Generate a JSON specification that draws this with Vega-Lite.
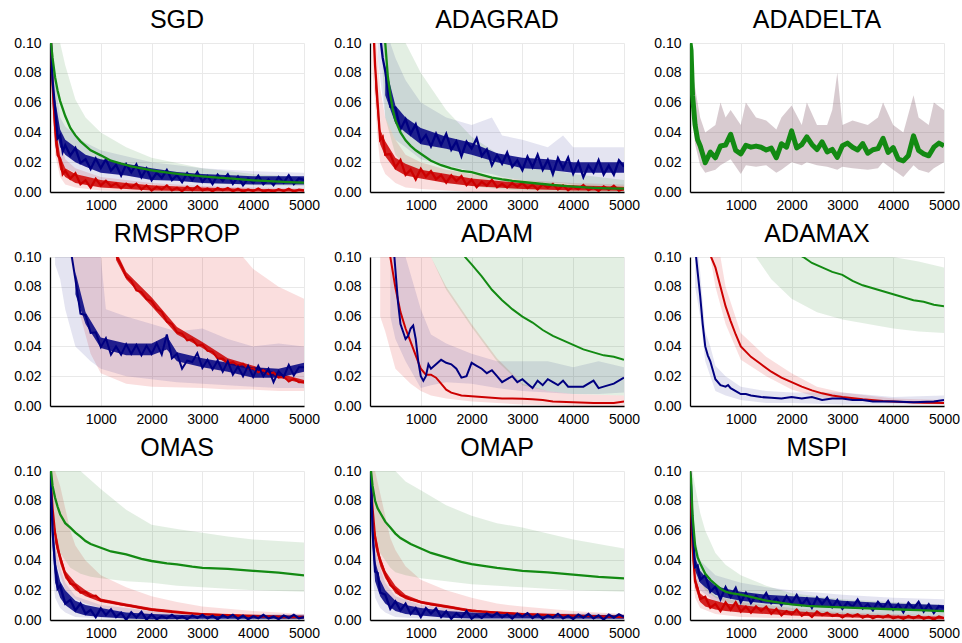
{
"$schema": "https://vega.github.io/schema/vega-lite/v6.json",
"background": "white",
"padding": {"left": 13, "top": 8, "right": 5, "bottom": 5},
"config": {
 "view": {"stroke": null},
 "font": "Liberation Sans",
 "title": {"fontSize": 25, "fontWeight": "normal", "anchor": "middle", "offset": 3, "color": "black", "font": "Liberation Sans"},
 "axis": {"labelFont": "Liberation Sans", "labelFontSize": 14, "labelColor": "black", "domainColor": "black", "domainWidth": 1.3, "ticks": false, "labelFlush": false, "labelOverlap": false, "gridColor": "#e9e9e9", "gridWidth": 1}
},
"columns": 3,
"spacing": {"row": 65, "column": 66},
"bounds": "flush",
"datasets": {
"bands": [
{"p":"SGD","s":"r","x":20,"l":0.09,"h":0.1},{"p":"SGD","s":"r","x":50,"l":0.05,"h":0.1},{"p":"SGD","s":"r","x":100,"l":0.025,"h":0.065},{"p":"SGD","s":"r","x":200,"l":0.01,"h":0.035},{"p":"SGD","s":"r","x":300,"l":0.005,"h":0.022},{"p":"SGD","s":"r","x":500,"l":0.003,"h":0.016},{"p":"SGD","s":"r","x":1000,"l":0.001,"h":0.01},{"p":"SGD","s":"r","x":1500,"l":0.0005,"h":0.008},{"p":"SGD","s":"r","x":2000,"l":0,"h":0.006},{"p":"SGD","s":"r","x":3000,"l":0,"h":0.004},{"p":"SGD","s":"r","x":4000,"l":0,"h":0.003},{"p":"SGD","s":"r","x":5000,"l":0,"h":0.0025},
{"p":"SGD","s":"b","x":20,"l":0.09,"h":0.11},{"p":"SGD","s":"b","x":50,"l":0.055,"h":0.1},{"p":"SGD","s":"b","x":100,"l":0.03,"h":0.075},{"p":"SGD","s":"b","x":200,"l":0.02,"h":0.05},{"p":"SGD","s":"b","x":300,"l":0.016,"h":0.044},{"p":"SGD","s":"b","x":500,"l":0.013,"h":0.038},{"p":"SGD","s":"b","x":700,"l":0.01,"h":0.033},{"p":"SGD","s":"b","x":1000,"l":0.008,"h":0.028},{"p":"SGD","s":"b","x":1500,"l":0.006,"h":0.024},{"p":"SGD","s":"b","x":2000,"l":0.005,"h":0.02},{"p":"SGD","s":"b","x":3000,"l":0.003,"h":0.016},{"p":"SGD","s":"b","x":4000,"l":0.002,"h":0.014},{"p":"SGD","s":"b","x":5000,"l":0.002,"h":0.013},
{"p":"SGD","s":"g","x":20,"l":0.095,"h":0.11},{"p":"SGD","s":"g","x":100,"l":0.05,"h":0.11},{"p":"SGD","s":"g","x":200,"l":0.04,"h":0.1},{"p":"SGD","s":"g","x":300,"l":0.032,"h":0.085},{"p":"SGD","s":"g","x":500,"l":0.024,"h":0.062},{"p":"SGD","s":"g","x":700,"l":0.02,"h":0.05},{"p":"SGD","s":"g","x":1000,"l":0.016,"h":0.04},{"p":"SGD","s":"g","x":1500,"l":0.011,"h":0.03},{"p":"SGD","s":"g","x":2000,"l":0.009,"h":0.023},{"p":"SGD","s":"g","x":3000,"l":0.006,"h":0.016},{"p":"SGD","s":"g","x":4000,"l":0.0045,"h":0.012},{"p":"SGD","s":"g","x":5000,"l":0.004,"h":0.01},
{"p":"ADAGRAD","s":"r","x":50,"l":0.08,"h":0.13},{"p":"ADAGRAD","s":"r","x":100,"l":0.06,"h":0.11},{"p":"ADAGRAD","s":"r","x":150,"l":0.035,"h":0.09},{"p":"ADAGRAD","s":"r","x":200,"l":0.02,"h":0.07},{"p":"ADAGRAD","s":"r","x":300,"l":0.012,"h":0.05},{"p":"ADAGRAD","s":"r","x":500,"l":0.006,"h":0.035},{"p":"ADAGRAD","s":"r","x":700,"l":0.003,"h":0.025},{"p":"ADAGRAD","s":"r","x":1000,"l":0.002,"h":0.02},{"p":"ADAGRAD","s":"r","x":1500,"l":0.001,"h":0.015},{"p":"ADAGRAD","s":"r","x":2000,"l":0,"h":0.012},{"p":"ADAGRAD","s":"r","x":3000,"l":0,"h":0.008},{"p":"ADAGRAD","s":"r","x":4000,"l":0,"h":0.006},{"p":"ADAGRAD","s":"r","x":5000,"l":0,"h":0.005},
{"p":"ADAGRAD","s":"b","x":150,"l":0.09,"h":0.13},{"p":"ADAGRAD","s":"b","x":300,"l":0.05,"h":0.11},{"p":"ADAGRAD","s":"b","x":500,"l":0.035,"h":0.09},{"p":"ADAGRAD","s":"b","x":700,"l":0.03,"h":0.075},{"p":"ADAGRAD","s":"b","x":1000,"l":0.022,"h":0.06},{"p":"ADAGRAD","s":"b","x":1500,"l":0.018,"h":0.05},{"p":"ADAGRAD","s":"b","x":2000,"l":0.014,"h":0.045},{"p":"ADAGRAD","s":"b","x":2400,"l":0.012,"h":0.05},{"p":"ADAGRAD","s":"b","x":2600,"l":0.01,"h":0.038},{"p":"ADAGRAD","s":"b","x":3000,"l":0.008,"h":0.035},{"p":"ADAGRAD","s":"b","x":3500,"l":0.006,"h":0.03},{"p":"ADAGRAD","s":"b","x":3800,"l":0.006,"h":0.038},{"p":"ADAGRAD","s":"b","x":4000,"l":0.005,"h":0.03},{"p":"ADAGRAD","s":"b","x":4500,"l":0.004,"h":0.03},{"p":"ADAGRAD","s":"b","x":5000,"l":0.004,"h":0.03},
{"p":"ADAGRAD","s":"g","x":250,"l":0.08,"h":0.12},{"p":"ADAGRAD","s":"g","x":300,"l":0.05,"h":0.12},{"p":"ADAGRAD","s":"g","x":500,"l":0.025,"h":0.11},{"p":"ADAGRAD","s":"g","x":700,"l":0.017,"h":0.1},{"p":"ADAGRAD","s":"g","x":1000,"l":0.01,"h":0.08},{"p":"ADAGRAD","s":"g","x":1500,"l":0.006,"h":0.055},{"p":"ADAGRAD","s":"g","x":2000,"l":0.004,"h":0.037},{"p":"ADAGRAD","s":"g","x":2500,"l":0.002,"h":0.026},{"p":"ADAGRAD","s":"g","x":3000,"l":0.001,"h":0.019},{"p":"ADAGRAD","s":"g","x":4000,"l":0,"h":0.012},{"p":"ADAGRAD","s":"g","x":5000,"l":0,"h":0.008},
{"p":"ADADELTA","s":"m","x":0,"l":0.095,"h":0.1},{"p":"ADADELTA","s":"m","x":50,"l":0.05,"h":0.08},{"p":"ADADELTA","s":"m","x":100,"l":0.032,"h":0.07},{"p":"ADADELTA","s":"m","x":200,"l":0.018,"h":0.05},{"p":"ADADELTA","s":"m","x":300,"l":0.013,"h":0.04},{"p":"ADADELTA","s":"m","x":500,"l":0.015,"h":0.045},{"p":"ADADELTA","s":"m","x":600,"l":0.018,"h":0.06},{"p":"ADADELTA","s":"m","x":700,"l":0.02,"h":0.05},{"p":"ADADELTA","s":"m","x":800,"l":0.022,"h":0.055},{"p":"ADADELTA","s":"m","x":1000,"l":0.012,"h":0.045},{"p":"ADADELTA","s":"m","x":1100,"l":0.018,"h":0.06},{"p":"ADADELTA","s":"m","x":1300,"l":0.017,"h":0.05},{"p":"ADADELTA","s":"m","x":1500,"l":0.018,"h":0.048},{"p":"ADADELTA","s":"m","x":1700,"l":0.013,"h":0.042},{"p":"ADADELTA","s":"m","x":1800,"l":0.015,"h":0.05},{"p":"ADADELTA","s":"m","x":2000,"l":0.02,"h":0.058},{"p":"ADADELTA","s":"m","x":2200,"l":0.018,"h":0.045},{"p":"ADADELTA","s":"m","x":2300,"l":0.02,"h":0.06},{"p":"ADADELTA","s":"m","x":2500,"l":0.018,"h":0.045},{"p":"ADADELTA","s":"m","x":2700,"l":0.017,"h":0.045},{"p":"ADADELTA","s":"m","x":2800,"l":0.016,"h":0.055},{"p":"ADADELTA","s":"m","x":2900,"l":0.015,"h":0.08},{"p":"ADADELTA","s":"m","x":3000,"l":0.017,"h":0.045},{"p":"ADADELTA","s":"m","x":3200,"l":0.016,"h":0.048},{"p":"ADADELTA","s":"m","x":3500,"l":0.015,"h":0.045},{"p":"ADADELTA","s":"m","x":3700,"l":0.016,"h":0.05},{"p":"ADADELTA","s":"m","x":3800,"l":0.02,"h":0.06},{"p":"ADADELTA","s":"m","x":4000,"l":0.015,"h":0.045},{"p":"ADADELTA","s":"m","x":4200,"l":0.01,"h":0.04},{"p":"ADADELTA","s":"m","x":4400,"l":0.018,"h":0.065},{"p":"ADADELTA","s":"m","x":4500,"l":0.015,"h":0.05},{"p":"ADADELTA","s":"m","x":4700,"l":0.013,"h":0.045},{"p":"ADADELTA","s":"m","x":4800,"l":0.016,"h":0.06},{"p":"ADADELTA","s":"m","x":5000,"l":0.02,"h":0.055},
{"p":"RMSPROP","s":"r","x":400,"l":0.1,"h":0.15},{"p":"RMSPROP","s":"r","x":600,"l":0.06,"h":0.15},{"p":"RMSPROP","s":"r","x":800,"l":0.035,"h":0.15},{"p":"RMSPROP","s":"r","x":1000,"l":0.022,"h":0.15},{"p":"RMSPROP","s":"r","x":1500,"l":0.015,"h":0.15},{"p":"RMSPROP","s":"r","x":2000,"l":0.013,"h":0.15},{"p":"RMSPROP","s":"r","x":3000,"l":0.012,"h":0.14},{"p":"RMSPROP","s":"r","x":3500,"l":0.011,"h":0.11},{"p":"RMSPROP","s":"r","x":3800,"l":0.011,"h":0.1},{"p":"RMSPROP","s":"r","x":4000,"l":0.011,"h":0.092},{"p":"RMSPROP","s":"r","x":4500,"l":0.01,"h":0.08},{"p":"RMSPROP","s":"r","x":5000,"l":0.01,"h":0.072},
{"p":"RMSPROP","s":"b","x":100,"l":0.095,"h":0.15},{"p":"RMSPROP","s":"b","x":200,"l":0.085,"h":0.15},{"p":"RMSPROP","s":"b","x":300,"l":0.065,"h":0.15},{"p":"RMSPROP","s":"b","x":500,"l":0.04,"h":0.15},{"p":"RMSPROP","s":"b","x":800,"l":0.03,"h":0.12},{"p":"RMSPROP","s":"b","x":1000,"l":0.025,"h":0.1},{"p":"RMSPROP","s":"b","x":1100,"l":0.024,"h":0.065},{"p":"RMSPROP","s":"b","x":1500,"l":0.02,"h":0.06},{"p":"RMSPROP","s":"b","x":2000,"l":0.018,"h":0.055},{"p":"RMSPROP","s":"b","x":2500,"l":0.016,"h":0.05},{"p":"RMSPROP","s":"b","x":3000,"l":0.015,"h":0.052},{"p":"RMSPROP","s":"b","x":3500,"l":0.014,"h":0.045},{"p":"RMSPROP","s":"b","x":4000,"l":0.013,"h":0.04},{"p":"RMSPROP","s":"b","x":4500,"l":0.012,"h":0.042},{"p":"RMSPROP","s":"b","x":5000,"l":0.012,"h":0.04},
{"p":"ADAM","s":"r","x":200,"l":0.06,"h":0.15},{"p":"ADAM","s":"r","x":300,"l":0.05,"h":0.15},{"p":"ADAM","s":"r","x":500,"l":0.025,"h":0.15},{"p":"ADAM","s":"r","x":800,"l":0.015,"h":0.13},{"p":"ADAM","s":"r","x":1000,"l":0.01,"h":0.1},{"p":"ADAM","s":"r","x":1200,"l":0.007,"h":0.1},{"p":"ADAM","s":"r","x":1500,"l":0.005,"h":0.08},{"p":"ADAM","s":"r","x":2000,"l":0.003,"h":0.055},{"p":"ADAM","s":"r","x":2500,"l":0.002,"h":0.032},{"p":"ADAM","s":"r","x":3000,"l":0.001,"h":0.015},{"p":"ADAM","s":"r","x":3500,"l":0.0005,"h":0.01},{"p":"ADAM","s":"r","x":4000,"l":0,"h":0.008},{"p":"ADAM","s":"r","x":5000,"l":0,"h":0.007},
{"p":"ADAM","s":"b","x":400,"l":0.06,"h":0.15},{"p":"ADAM","s":"b","x":500,"l":0.045,"h":0.12},{"p":"ADAM","s":"b","x":700,"l":0.03,"h":0.1},{"p":"ADAM","s":"b","x":1000,"l":0.012,"h":0.065},{"p":"ADAM","s":"b","x":1200,"l":0.014,"h":0.048},{"p":"ADAM","s":"b","x":1500,"l":0.016,"h":0.042},{"p":"ADAM","s":"b","x":2000,"l":0.015,"h":0.035},{"p":"ADAM","s":"b","x":2500,"l":0.012,"h":0.03},{"p":"ADAM","s":"b","x":3000,"l":0.01,"h":0.03},{"p":"ADAM","s":"b","x":3500,"l":0.009,"h":0.03},{"p":"ADAM","s":"b","x":4000,"l":0.008,"h":0.026},{"p":"ADAM","s":"b","x":4500,"l":0.008,"h":0.03},{"p":"ADAM","s":"b","x":5000,"l":0.009,"h":0.026},
{"p":"ADAM","s":"g","x":1000,"l":0.1,"h":0.16},{"p":"ADAM","s":"g","x":1200,"l":0.1,"h":0.16},{"p":"ADAM","s":"g","x":1500,"l":0.078,"h":0.16},{"p":"ADAM","s":"g","x":2000,"l":0.053,"h":0.16},{"p":"ADAM","s":"g","x":2500,"l":0.03,"h":0.15},{"p":"ADAM","s":"g","x":3000,"l":0.014,"h":0.15},{"p":"ADAM","s":"g","x":3500,"l":0.01,"h":0.14},{"p":"ADAM","s":"g","x":4000,"l":0.008,"h":0.13},{"p":"ADAM","s":"g","x":5000,"l":0.007,"h":0.12},
{"p":"ADAMAX","s":"r","x":300,"l":0.12,"h":0.15},{"p":"ADAMAX","s":"r","x":500,"l":0.08,"h":0.12},{"p":"ADAMAX","s":"r","x":700,"l":0.055,"h":0.08},{"p":"ADAMAX","s":"r","x":1000,"l":0.031,"h":0.049},{"p":"ADAMAX","s":"r","x":1500,"l":0.02,"h":0.033},{"p":"ADAMAX","s":"r","x":2000,"l":0.011,"h":0.022},{"p":"ADAMAX","s":"r","x":2500,"l":0.006,"h":0.013},{"p":"ADAMAX","s":"r","x":3000,"l":0.004,"h":0.009},{"p":"ADAMAX","s":"r","x":4000,"l":0.002,"h":0.005},{"p":"ADAMAX","s":"r","x":5000,"l":0.001,"h":0.004},
{"p":"ADAMAX","s":"b","x":100,"l":0.08,"h":0.12},{"p":"ADAMAX","s":"b","x":200,"l":0.06,"h":0.09},{"p":"ADAMAX","s":"b","x":300,"l":0.03,"h":0.05},{"p":"ADAMAX","s":"b","x":400,"l":0.02,"h":0.04},{"p":"ADAMAX","s":"b","x":500,"l":0.01,"h":0.027},{"p":"ADAMAX","s":"b","x":700,"l":0.007,"h":0.02},{"p":"ADAMAX","s":"b","x":1000,"l":0.004,"h":0.013},{"p":"ADAMAX","s":"b","x":1500,"l":0.002,"h":0.01},{"p":"ADAMAX","s":"b","x":2000,"l":0.002,"h":0.009},{"p":"ADAMAX","s":"b","x":3000,"l":0.001,"h":0.009},{"p":"ADAMAX","s":"b","x":4000,"l":0.001,"h":0.006},{"p":"ADAMAX","s":"b","x":5000,"l":0.001,"h":0.007},
{"p":"ADAMAX","s":"g","x":1300,"l":0.1,"h":0.15},{"p":"ADAMAX","s":"g","x":1600,"l":0.085,"h":0.15},{"p":"ADAMAX","s":"g","x":2000,"l":0.072,"h":0.15},{"p":"ADAMAX","s":"g","x":2500,"l":0.063,"h":0.14},{"p":"ADAMAX","s":"g","x":3000,"l":0.058,"h":0.13},{"p":"ADAMAX","s":"g","x":3500,"l":0.055,"h":0.11},{"p":"ADAMAX","s":"g","x":4000,"l":0.052,"h":0.1},{"p":"ADAMAX","s":"g","x":4500,"l":0.05,"h":0.097},{"p":"ADAMAX","s":"g","x":5000,"l":0.049,"h":0.093},
{"p":"OMAS","s":"r","x":0,"l":0.09,"h":0.1},{"p":"OMAS","s":"r","x":50,"l":0.05,"h":0.1},{"p":"OMAS","s":"r","x":100,"l":0.04,"h":0.1},{"p":"OMAS","s":"r","x":200,"l":0.03,"h":0.09},{"p":"OMAS","s":"r","x":300,"l":0.02,"h":0.075},{"p":"OMAS","s":"r","x":400,"l":0.017,"h":0.06},{"p":"OMAS","s":"r","x":500,"l":0.014,"h":0.05},{"p":"OMAS","s":"r","x":700,"l":0.011,"h":0.04},{"p":"OMAS","s":"r","x":1000,"l":0.008,"h":0.03},{"p":"OMAS","s":"r","x":1500,"l":0.005,"h":0.022},{"p":"OMAS","s":"r","x":2000,"l":0.003,"h":0.016},{"p":"OMAS","s":"r","x":2500,"l":0.002,"h":0.012},{"p":"OMAS","s":"r","x":3000,"l":0.0015,"h":0.009},{"p":"OMAS","s":"r","x":4000,"l":0.001,"h":0.006},{"p":"OMAS","s":"r","x":5000,"l":0.001,"h":0.004},
{"p":"OMAS","s":"b","x":0,"l":0.08,"h":0.1},{"p":"OMAS","s":"b","x":50,"l":0.03,"h":0.08},{"p":"OMAS","s":"b","x":100,"l":0.015,"h":0.05},{"p":"OMAS","s":"b","x":200,"l":0.008,"h":0.035},{"p":"OMAS","s":"b","x":300,"l":0.005,"h":0.025},{"p":"OMAS","s":"b","x":500,"l":0.002,"h":0.016},{"p":"OMAS","s":"b","x":1000,"l":0.001,"h":0.01},{"p":"OMAS","s":"b","x":2000,"l":0,"h":0.006},{"p":"OMAS","s":"b","x":3000,"l":0,"h":0.004},{"p":"OMAS","s":"b","x":5000,"l":0,"h":0.004},
{"p":"OMAS","s":"g","x":0,"l":0.1,"h":0.11},{"p":"OMAS","s":"g","x":50,"l":0.07,"h":0.11},{"p":"OMAS","s":"g","x":100,"l":0.06,"h":0.11},{"p":"OMAS","s":"g","x":200,"l":0.045,"h":0.11},{"p":"OMAS","s":"g","x":400,"l":0.035,"h":0.11},{"p":"OMAS","s":"g","x":600,"l":0.031,"h":0.1},{"p":"OMAS","s":"g","x":800,"l":0.029,"h":0.094},{"p":"OMAS","s":"g","x":1000,"l":0.028,"h":0.088},{"p":"OMAS","s":"g","x":1500,"l":0.026,"h":0.074},{"p":"OMAS","s":"g","x":2000,"l":0.025,"h":0.064},{"p":"OMAS","s":"g","x":2500,"l":0.023,"h":0.061},{"p":"OMAS","s":"g","x":3000,"l":0.022,"h":0.0586},{"p":"OMAS","s":"g","x":3500,"l":0.021,"h":0.056},{"p":"OMAS","s":"g","x":4000,"l":0.02,"h":0.054},{"p":"OMAS","s":"g","x":4500,"l":0.0195,"h":0.053},{"p":"OMAS","s":"g","x":5000,"l":0.019,"h":0.052},
{"p":"OMAP","s":"r","x":0,"l":0.09,"h":0.1},{"p":"OMAP","s":"r","x":50,"l":0.05,"h":0.1},{"p":"OMAP","s":"r","x":100,"l":0.035,"h":0.1},{"p":"OMAP","s":"r","x":200,"l":0.025,"h":0.085},{"p":"OMAP","s":"r","x":300,"l":0.018,"h":0.07},{"p":"OMAP","s":"r","x":400,"l":0.015,"h":0.055},{"p":"OMAP","s":"r","x":500,"l":0.012,"h":0.047},{"p":"OMAP","s":"r","x":700,"l":0.009,"h":0.036},{"p":"OMAP","s":"r","x":1000,"l":0.007,"h":0.027},{"p":"OMAP","s":"r","x":1500,"l":0.004,"h":0.02},{"p":"OMAP","s":"r","x":2000,"l":0.003,"h":0.015},{"p":"OMAP","s":"r","x":2500,"l":0.002,"h":0.011},{"p":"OMAP","s":"r","x":3000,"l":0.0015,"h":0.009},{"p":"OMAP","s":"r","x":4000,"l":0.001,"h":0.006},{"p":"OMAP","s":"r","x":5000,"l":0.001,"h":0.004},
{"p":"OMAP","s":"b","x":0,"l":0.08,"h":0.1},{"p":"OMAP","s":"b","x":50,"l":0.03,"h":0.08},{"p":"OMAP","s":"b","x":100,"l":0.015,"h":0.05},{"p":"OMAP","s":"b","x":200,"l":0.008,"h":0.035},{"p":"OMAP","s":"b","x":300,"l":0.005,"h":0.025},{"p":"OMAP","s":"b","x":500,"l":0.002,"h":0.016},{"p":"OMAP","s":"b","x":1000,"l":0.001,"h":0.01},{"p":"OMAP","s":"b","x":2000,"l":0,"h":0.006},{"p":"OMAP","s":"b","x":3000,"l":0,"h":0.005},{"p":"OMAP","s":"b","x":5000,"l":0,"h":0.004},
{"p":"OMAP","s":"g","x":0,"l":0.1,"h":0.11},{"p":"OMAP","s":"g","x":100,"l":0.06,"h":0.11},{"p":"OMAP","s":"g","x":200,"l":0.045,"h":0.11},{"p":"OMAP","s":"g","x":400,"l":0.035,"h":0.105},{"p":"OMAP","s":"g","x":500,"l":0.032,"h":0.1},{"p":"OMAP","s":"g","x":700,"l":0.03,"h":0.093},{"p":"OMAP","s":"g","x":1000,"l":0.028,"h":0.087},{"p":"OMAP","s":"g","x":1500,"l":0.026,"h":0.077},{"p":"OMAP","s":"g","x":2000,"l":0.024,"h":0.07},{"p":"OMAP","s":"g","x":2500,"l":0.023,"h":0.065},{"p":"OMAP","s":"g","x":3000,"l":0.022,"h":0.062},{"p":"OMAP","s":"g","x":3500,"l":0.021,"h":0.058},{"p":"OMAP","s":"g","x":4000,"l":0.02,"h":0.054},{"p":"OMAP","s":"g","x":4500,"l":0.0195,"h":0.051},{"p":"OMAP","s":"g","x":5000,"l":0.019,"h":0.048},
{"p":"MSPI","s":"r","x":0,"l":0.08,"h":0.1},{"p":"MSPI","s":"r","x":50,"l":0.03,"h":0.07},{"p":"MSPI","s":"r","x":100,"l":0.015,"h":0.045},{"p":"MSPI","s":"r","x":200,"l":0.008,"h":0.025},{"p":"MSPI","s":"r","x":500,"l":0.004,"h":0.016},{"p":"MSPI","s":"r","x":1000,"l":0.002,"h":0.012},{"p":"MSPI","s":"r","x":2000,"l":0.001,"h":0.008},{"p":"MSPI","s":"r","x":3000,"l":0,"h":0.005},{"p":"MSPI","s":"r","x":5000,"l":0,"h":0.003},
{"p":"MSPI","s":"b","x":0,"l":0.09,"h":0.11},{"p":"MSPI","s":"b","x":50,"l":0.045,"h":0.08},{"p":"MSPI","s":"b","x":100,"l":0.028,"h":0.055},{"p":"MSPI","s":"b","x":200,"l":0.02,"h":0.04},{"p":"MSPI","s":"b","x":500,"l":0.012,"h":0.03},{"p":"MSPI","s":"b","x":1000,"l":0.008,"h":0.025},{"p":"MSPI","s":"b","x":1500,"l":0.006,"h":0.022},{"p":"MSPI","s":"b","x":2000,"l":0.005,"h":0.02},{"p":"MSPI","s":"b","x":3000,"l":0.003,"h":0.017},{"p":"MSPI","s":"b","x":4000,"l":0.002,"h":0.015},{"p":"MSPI","s":"b","x":5000,"l":0.002,"h":0.014},
{"p":"MSPI","s":"g","x":0,"l":0.095,"h":0.11},{"p":"MSPI","s":"g","x":50,"l":0.05,"h":0.1},{"p":"MSPI","s":"g","x":100,"l":0.035,"h":0.09},{"p":"MSPI","s":"g","x":200,"l":0.026,"h":0.072},{"p":"MSPI","s":"g","x":300,"l":0.02,"h":0.06},{"p":"MSPI","s":"g","x":500,"l":0.015,"h":0.045},{"p":"MSPI","s":"g","x":700,"l":0.012,"h":0.037},{"p":"MSPI","s":"g","x":1000,"l":0.01,"h":0.03},{"p":"MSPI","s":"g","x":1500,"l":0.007,"h":0.023},{"p":"MSPI","s":"g","x":2000,"l":0.005,"h":0.018},{"p":"MSPI","s":"g","x":3000,"l":0.004,"h":0.014},{"p":"MSPI","s":"g","x":4000,"l":0.003,"h":0.012},{"p":"MSPI","s":"g","x":5000,"l":0.003,"h":0.01},
{"p":"SGD","s":"rn","x":50,"l":0.06,"h":0.08},{"p":"SGD","s":"rn","x":100,"l":0.032,"h":0.046},{"p":"SGD","s":"rn","x":200,"l":0.015,"h":0.024},{"p":"SGD","s":"rn","x":300,"l":0.01,"h":0.016},{"p":"SGD","s":"rn","x":500,"l":0.006,"h":0.012},{"p":"SGD","s":"rn","x":1000,"l":0.003,"h":0.008},{"p":"SGD","s":"rn","x":1500,"l":0.002,"h":0.006},{"p":"SGD","s":"rn","x":2000,"l":0.001,"h":0.0045},{"p":"SGD","s":"rn","x":3000,"l":0.0005,"h":0.003},{"p":"SGD","s":"rn","x":4000,"l":0.0003,"h":0.002},{"p":"SGD","s":"rn","x":5000,"l":0.0003,"h":0.0018},
{"p":"SGD","s":"bn","x":100,"l":0.045,"h":0.062},{"p":"SGD","s":"bn","x":200,"l":0.03,"h":0.042},{"p":"SGD","s":"bn","x":300,"l":0.025,"h":0.035},{"p":"SGD","s":"bn","x":500,"l":0.02,"h":0.03},{"p":"SGD","s":"bn","x":700,"l":0.017,"h":0.025},{"p":"SGD","s":"bn","x":1000,"l":0.013,"h":0.022},{"p":"SGD","s":"bn","x":1500,"l":0.011,"h":0.019},{"p":"SGD","s":"bn","x":2000,"l":0.008,"h":0.016},{"p":"SGD","s":"bn","x":2500,"l":0.0075,"h":0.0135},{"p":"SGD","s":"bn","x":3000,"l":0.006,"h":0.012},{"p":"SGD","s":"bn","x":4000,"l":0.005,"h":0.0105},{"p":"SGD","s":"bn","x":5000,"l":0.005,"h":0.0105},
{"p":"ADAGRAD","s":"rn","x":100,"l":0.07,"h":0.09},{"p":"ADAGRAD","s":"rn","x":150,"l":0.05,"h":0.062},{"p":"ADAGRAD","s":"rn","x":200,"l":0.032,"h":0.042},{"p":"ADAGRAD","s":"rn","x":300,"l":0.024,"h":0.034},{"p":"ADAGRAD","s":"rn","x":500,"l":0.015,"h":0.023},{"p":"ADAGRAD","s":"rn","x":700,"l":0.011,"h":0.019},{"p":"ADAGRAD","s":"rn","x":1000,"l":0.009,"h":0.015},{"p":"ADAGRAD","s":"rn","x":1500,"l":0.006,"h":0.012},{"p":"ADAGRAD","s":"rn","x":2000,"l":0.004,"h":0.009},{"p":"ADAGRAD","s":"rn","x":3000,"l":0.002,"h":0.006},{"p":"ADAGRAD","s":"rn","x":4000,"l":0.001,"h":0.0045},{"p":"ADAGRAD","s":"rn","x":5000,"l":0.0008,"h":0.0035},
{"p":"ADAGRAD","s":"bn","x":300,"l":0.065,"h":0.085},{"p":"ADAGRAD","s":"bn","x":500,"l":0.046,"h":0.058},{"p":"ADAGRAD","s":"bn","x":700,"l":0.04,"h":0.05},{"p":"ADAGRAD","s":"bn","x":1000,"l":0.032,"h":0.043},{"p":"ADAGRAD","s":"bn","x":1500,"l":0.029,"h":0.037},{"p":"ADAGRAD","s":"bn","x":2000,"l":0.025,"h":0.033},{"p":"ADAGRAD","s":"bn","x":2500,"l":0.02,"h":0.026},{"p":"ADAGRAD","s":"bn","x":3000,"l":0.016,"h":0.023},{"p":"ADAGRAD","s":"bn","x":3500,"l":0.015,"h":0.022},{"p":"ADAGRAD","s":"bn","x":4000,"l":0.013,"h":0.02},{"p":"ADAGRAD","s":"bn","x":4500,"l":0.013,"h":0.02},{"p":"ADAGRAD","s":"bn","x":5000,"l":0.013,"h":0.02},
{"p":"RMSPROP","s":"rn","x":1300,"l":0.098,"h":0.104},{"p":"RMSPROP","s":"rn","x":1500,"l":0.085,"h":0.09},{"p":"RMSPROP","s":"rn","x":2000,"l":0.067,"h":0.073},{"p":"RMSPROP","s":"rn","x":2500,"l":0.048,"h":0.053},{"p":"RMSPROP","s":"rn","x":3000,"l":0.039,"h":0.043},{"p":"RMSPROP","s":"rn","x":3500,"l":0.028,"h":0.032},{"p":"RMSPROP","s":"rn","x":4000,"l":0.024,"h":0.027},{"p":"RMSPROP","s":"rn","x":4500,"l":0.019,"h":0.022},{"p":"RMSPROP","s":"rn","x":5000,"l":0.015,"h":0.0175},
{"p":"RMSPROP","s":"bn","x":500,"l":0.075,"h":0.09},{"p":"RMSPROP","s":"bn","x":700,"l":0.055,"h":0.063},{"p":"RMSPROP","s":"bn","x":1000,"l":0.039,"h":0.046},{"p":"RMSPROP","s":"bn","x":1500,"l":0.034,"h":0.042},{"p":"RMSPROP","s":"bn","x":2000,"l":0.034,"h":0.042},{"p":"RMSPROP","s":"bn","x":2300,"l":0.038,"h":0.047},{"p":"RMSPROP","s":"bn","x":2500,"l":0.03,"h":0.036},{"p":"RMSPROP","s":"bn","x":3000,"l":0.026,"h":0.032},{"p":"RMSPROP","s":"bn","x":3500,"l":0.023,"h":0.029},{"p":"RMSPROP","s":"bn","x":4000,"l":0.019,"h":0.026},{"p":"RMSPROP","s":"bn","x":4500,"l":0.019,"h":0.025},{"p":"RMSPROP","s":"bn","x":5000,"l":0.023,"h":0.029},
{"p":"OMAS","s":"rn","x":100,"l":0.052,"h":0.062},{"p":"OMAS","s":"rn","x":200,"l":0.038,"h":0.045},{"p":"OMAS","s":"rn","x":300,"l":0.028,"h":0.033},{"p":"OMAS","s":"rn","x":500,"l":0.02,"h":0.025},{"p":"OMAS","s":"rn","x":700,"l":0.016,"h":0.02},{"p":"OMAS","s":"rn","x":1000,"l":0.012,"h":0.0145},{"p":"OMAS","s":"rn","x":1500,"l":0.009,"h":0.011},{"p":"OMAS","s":"rn","x":2000,"l":0.006,"h":0.008},{"p":"OMAS","s":"rn","x":3000,"l":0.0035,"h":0.0045},{"p":"OMAS","s":"rn","x":5000,"l":0.0015,"h":0.0025},
{"p":"OMAS","s":"bn","x":50,"l":0.05,"h":0.07},{"p":"OMAS","s":"bn","x":100,"l":0.025,"h":0.04},{"p":"OMAS","s":"bn","x":200,"l":0.015,"h":0.026},{"p":"OMAS","s":"bn","x":300,"l":0.01,"h":0.02},{"p":"OMAS","s":"bn","x":500,"l":0.005,"h":0.013},{"p":"OMAS","s":"bn","x":700,"l":0.003,"h":0.01},{"p":"OMAS","s":"bn","x":1000,"l":0.002,"h":0.008},{"p":"OMAS","s":"bn","x":1500,"l":0.001,"h":0.005},{"p":"OMAS","s":"bn","x":2000,"l":0.0005,"h":0.004},{"p":"OMAS","s":"bn","x":3000,"l":0.0008,"h":0.003},{"p":"OMAS","s":"bn","x":5000,"l":0.0008,"h":0.003},
{"p":"OMAP","s":"rn","x":100,"l":0.05,"h":0.06},{"p":"OMAP","s":"rn","x":200,"l":0.036,"h":0.043},{"p":"OMAP","s":"rn","x":300,"l":0.028,"h":0.033},{"p":"OMAP","s":"rn","x":500,"l":0.018,"h":0.023},{"p":"OMAP","s":"rn","x":700,"l":0.014,"h":0.017},{"p":"OMAP","s":"rn","x":1000,"l":0.011,"h":0.013},{"p":"OMAP","s":"rn","x":1500,"l":0.008,"h":0.01},{"p":"OMAP","s":"rn","x":2000,"l":0.0055,"h":0.007},{"p":"OMAP","s":"rn","x":3000,"l":0.0035,"h":0.0045},{"p":"OMAP","s":"rn","x":5000,"l":0.0015,"h":0.0025},
{"p":"OMAP","s":"bn","x":50,"l":0.05,"h":0.07},{"p":"OMAP","s":"bn","x":100,"l":0.026,"h":0.04},{"p":"OMAP","s":"bn","x":200,"l":0.016,"h":0.027},{"p":"OMAP","s":"bn","x":300,"l":0.011,"h":0.02},{"p":"OMAP","s":"bn","x":500,"l":0.006,"h":0.013},{"p":"OMAP","s":"bn","x":700,"l":0.004,"h":0.01},{"p":"OMAP","s":"bn","x":1000,"l":0.003,"h":0.008},{"p":"OMAP","s":"bn","x":1500,"l":0.0015,"h":0.006},{"p":"OMAP","s":"bn","x":2000,"l":0.001,"h":0.005},{"p":"OMAP","s":"bn","x":3000,"l":0.001,"h":0.004},{"p":"OMAP","s":"bn","x":5000,"l":0.0008,"h":0.0032},
{"p":"MSPI","s":"rn","x":50,"l":0.04,"h":0.055},{"p":"MSPI","s":"rn","x":100,"l":0.022,"h":0.03},{"p":"MSPI","s":"rn","x":200,"l":0.012,"h":0.018},{"p":"MSPI","s":"rn","x":300,"l":0.009,"h":0.015},{"p":"MSPI","s":"rn","x":500,"l":0.007,"h":0.013},{"p":"MSPI","s":"rn","x":700,"l":0.006,"h":0.011},{"p":"MSPI","s":"rn","x":1000,"l":0.005,"h":0.01},{"p":"MSPI","s":"rn","x":1500,"l":0.004,"h":0.008},{"p":"MSPI","s":"rn","x":2000,"l":0.003,"h":0.006},{"p":"MSPI","s":"rn","x":3000,"l":0.0018,"h":0.0038},{"p":"MSPI","s":"rn","x":4000,"l":0.001,"h":0.003},{"p":"MSPI","s":"rn","x":5000,"l":0.0005,"h":0.0022},
{"p":"MSPI","s":"bn","x":100,"l":0.033,"h":0.042},{"p":"MSPI","s":"bn","x":200,"l":0.025,"h":0.033},{"p":"MSPI","s":"bn","x":300,"l":0.022,"h":0.029},{"p":"MSPI","s":"bn","x":500,"l":0.017,"h":0.023},{"p":"MSPI","s":"bn","x":700,"l":0.015,"h":0.021},{"p":"MSPI","s":"bn","x":1000,"l":0.013,"h":0.019},{"p":"MSPI","s":"bn","x":1500,"l":0.011,"h":0.017},{"p":"MSPI","s":"bn","x":2000,"l":0.01,"h":0.016},{"p":"MSPI","s":"bn","x":2500,"l":0.009,"h":0.015},{"p":"MSPI","s":"bn","x":3000,"l":0.008,"h":0.013},{"p":"MSPI","s":"bn","x":4000,"l":0.007,"h":0.011},{"p":"MSPI","s":"bn","x":5000,"l":0.006,"h":0.01}
],
"lines": [
{"p":"SGD","s":"r","x":0,"y":0.1},{"p":"SGD","s":"r","x":20,"y":0.1},{"p":"SGD","s":"r","x":50,"y":0.072},{"p":"SGD","s":"r","x":100,"y":0.044},{"p":"SGD","s":"r","x":150,"y":0.0248},{"p":"SGD","s":"r","x":200,"y":0.0224},{"p":"SGD","s":"r","x":250,"y":0.012},{"p":"SGD","s":"r","x":300,"y":0.0142},{"p":"SGD","s":"r","x":400,"y":0.009},{"p":"SGD","s":"r","x":500,"y":0.0126},{"p":"SGD","s":"r","x":600,"y":0.0052},{"p":"SGD","s":"r","x":700,"y":0.0078},{"p":"SGD","s":"r","x":800,"y":0.0029},{"p":"SGD","s":"r","x":900,"y":0.0088},{"p":"SGD","s":"r","x":1000,"y":0.0044},{"p":"SGD","s":"r","x":1100,"y":0.0075},{"p":"SGD","s":"r","x":1200,"y":0.0038},{"p":"SGD","s":"r","x":1300,"y":0.0058},{"p":"SGD","s":"r","x":1400,"y":0.0025},{"p":"SGD","s":"r","x":1500,"y":0.0056},{"p":"SGD","s":"r","x":1600,"y":0.0032},{"p":"SGD","s":"r","x":1700,"y":0.0056},{"p":"SGD","s":"r","x":1800,"y":0.0018},{"p":"SGD","s":"r","x":1900,"y":0.0044},{"p":"SGD","s":"r","x":2000,"y":0.001},{"p":"SGD","s":"r","x":2100,"y":0.0035},{"p":"SGD","s":"r","x":2200,"y":0.0018},{"p":"SGD","s":"r","x":2300,"y":0.0044},{"p":"SGD","s":"r","x":2400,"y":0.0011},{"p":"SGD","s":"r","x":2500,"y":0.0028},{"p":"SGD","s":"r","x":2600,"y":0.0005},{"p":"SGD","s":"r","x":2700,"y":0.0036},{"p":"SGD","s":"r","x":2800,"y":0.0012},{"p":"SGD","s":"r","x":2900,"y":0.0039},{"p":"SGD","s":"r","x":3000,"y":0.0011},{"p":"SGD","s":"r","x":3100,"y":0.0023},{"p":"SGD","s":"r","x":3200,"y":0.0005},{"p":"SGD","s":"r","x":3300,"y":0.0026},{"p":"SGD","s":"r","x":3400,"y":0.0012},{"p":"SGD","s":"r","x":3500,"y":0.0027},{"p":"SGD","s":"r","x":3600,"y":0.0005},{"p":"SGD","s":"r","x":3700,"y":0.0021},{"p":"SGD","s":"r","x":3800,"y":0.0003},{"p":"SGD","s":"r","x":3900,"y":0.0017},{"p":"SGD","s":"r","x":4000,"y":0.0006},{"p":"SGD","s":"r","x":4100,"y":0.0023},{"p":"SGD","s":"r","x":4200,"y":0.0004},{"p":"SGD","s":"r","x":4300,"y":0.0013},{"p":"SGD","s":"r","x":4400,"y":0.0003},{"p":"SGD","s":"r","x":4500,"y":0.0019},{"p":"SGD","s":"r","x":4600,"y":0.0006},{"p":"SGD","s":"r","x":4700,"y":0.0022},{"p":"SGD","s":"r","x":4800,"y":0.0003},{"p":"SGD","s":"r","x":4900,"y":0.0016},{"p":"SGD","s":"r","x":5000,"y":0.001},
{"p":"SGD","s":"b","x":0,"y":0.1},{"p":"SGD","s":"b","x":20,"y":0.1},{"p":"SGD","s":"b","x":50,"y":0.075},{"p":"SGD","s":"b","x":100,"y":0.056},{"p":"SGD","s":"b","x":150,"y":0.036},{"p":"SGD","s":"b","x":200,"y":0.038},{"p":"SGD","s":"b","x":250,"y":0.027},{"p":"SGD","s":"b","x":300,"y":0.0315},{"p":"SGD","s":"b","x":400,"y":0.0245},{"p":"SGD","s":"b","x":500,"y":0.0295},{"p":"SGD","s":"b","x":600,"y":0.0195},{"p":"SGD","s":"b","x":700,"y":0.022},{"p":"SGD","s":"b","x":800,"y":0.0155},{"p":"SGD","s":"b","x":900,"y":0.0225},{"p":"SGD","s":"b","x":1000,"y":0.016},{"p":"SGD","s":"b","x":1100,"y":0.022},{"p":"SGD","s":"b","x":1200,"y":0.0143},{"p":"SGD","s":"b","x":1300,"y":0.0183},{"p":"SGD","s":"b","x":1400,"y":0.011},{"p":"SGD","s":"b","x":1500,"y":0.0186},{"p":"SGD","s":"b","x":1600,"y":0.0132},{"p":"SGD","s":"b","x":1700,"y":0.0185},{"p":"SGD","s":"b","x":1800,"y":0.0099},{"p":"SGD","s":"b","x":1900,"y":0.0157},{"p":"SGD","s":"b","x":2000,"y":0.008},{"p":"SGD","s":"b","x":2100,"y":0.0129},{"p":"SGD","s":"b","x":2200,"y":0.0094},{"p":"SGD","s":"b","x":2300,"y":0.0147},{"p":"SGD","s":"b","x":2400,"y":0.008},{"p":"SGD","s":"b","x":2500,"y":0.0113},{"p":"SGD","s":"b","x":2600,"y":0.0066},{"p":"SGD","s":"b","x":2700,"y":0.0127},{"p":"SGD","s":"b","x":2800,"y":0.008},{"p":"SGD","s":"b","x":2900,"y":0.0133},{"p":"SGD","s":"b","x":3000,"y":0.0069},{"p":"SGD","s":"b","x":3100,"y":0.0107},{"p":"SGD","s":"b","x":3200,"y":0.0053},{"p":"SGD","s":"b","x":3300,"y":0.0115},{"p":"SGD","s":"b","x":3400,"y":0.0075},{"p":"SGD","s":"b","x":3500,"y":0.0119},{"p":"SGD","s":"b","x":3600,"y":0.0055},{"p":"SGD","s":"b","x":3700,"y":0.0103},{"p":"SGD","s":"b","x":3800,"y":0.0046},{"p":"SGD","s":"b","x":3900,"y":0.009},{"p":"SGD","s":"b","x":4000,"y":0.0061},{"p":"SGD","s":"b","x":4100,"y":0.0109},{"p":"SGD","s":"b","x":4200,"y":0.0053},{"p":"SGD","s":"b","x":4300,"y":0.0084},{"p":"SGD","s":"b","x":4400,"y":0.0046},{"p":"SGD","s":"b","x":4500,"y":0.01},{"p":"SGD","s":"b","x":4600,"y":0.0062},{"p":"SGD","s":"b","x":4700,"y":0.0111},{"p":"SGD","s":"b","x":4800,"y":0.0054},{"p":"SGD","s":"b","x":4900,"y":0.0092},{"p":"SGD","s":"b","x":5000,"y":0.008},
{"p":"SGD","s":"g","x":0,"y":0.105},{"p":"SGD","s":"g","x":20,"y":0.1},{"p":"SGD","s":"g","x":50,"y":0.09},{"p":"SGD","s":"g","x":100,"y":0.077},{"p":"SGD","s":"g","x":150,"y":0.068},{"p":"SGD","s":"g","x":200,"y":0.061},{"p":"SGD","s":"g","x":300,"y":0.051},{"p":"SGD","s":"g","x":400,"y":0.043},{"p":"SGD","s":"g","x":500,"y":0.038},{"p":"SGD","s":"g","x":600,"y":0.034},{"p":"SGD","s":"g","x":700,"y":0.031},{"p":"SGD","s":"g","x":800,"y":0.028},{"p":"SGD","s":"g","x":1000,"y":0.0246},{"p":"SGD","s":"g","x":1200,"y":0.021},{"p":"SGD","s":"g","x":1400,"y":0.019},{"p":"SGD","s":"g","x":1600,"y":0.0172},{"p":"SGD","s":"g","x":1800,"y":0.0158},{"p":"SGD","s":"g","x":2000,"y":0.0145},{"p":"SGD","s":"g","x":2200,"y":0.0135},{"p":"SGD","s":"g","x":2400,"y":0.0126},{"p":"SGD","s":"g","x":2600,"y":0.0119},{"p":"SGD","s":"g","x":2800,"y":0.0112},{"p":"SGD","s":"g","x":3000,"y":0.0105},{"p":"SGD","s":"g","x":3300,"y":0.0097},{"p":"SGD","s":"g","x":3600,"y":0.009},{"p":"SGD","s":"g","x":4000,"y":0.0078},{"p":"SGD","s":"g","x":4400,"y":0.0071},{"p":"SGD","s":"g","x":4700,"y":0.0066},{"p":"SGD","s":"g","x":5000,"y":0.0063},
{"p":"ADAGRAD","s":"r","x":50,"y":0.13},{"p":"ADAGRAD","s":"r","x":80,"y":0.1},{"p":"ADAGRAD","s":"r","x":100,"y":0.085},{"p":"ADAGRAD","s":"r","x":150,"y":0.06},{"p":"ADAGRAD","s":"r","x":200,"y":0.035},{"p":"ADAGRAD","s":"r","x":250,"y":0.037},{"p":"ADAGRAD","s":"r","x":300,"y":0.025},{"p":"ADAGRAD","s":"r","x":400,"y":0.0255},{"p":"ADAGRAD","s":"r","x":500,"y":0.0165},{"p":"ADAGRAD","s":"r","x":600,"y":0.0215},{"p":"ADAGRAD","s":"r","x":700,"y":0.0115},{"p":"ADAGRAD","s":"r","x":800,"y":0.015},{"p":"ADAGRAD","s":"r","x":900,"y":0.0085},{"p":"ADAGRAD","s":"r","x":1000,"y":0.0155},{"p":"ADAGRAD","s":"r","x":1100,"y":0.0103},{"p":"ADAGRAD","s":"r","x":1200,"y":0.014},{"p":"ADAGRAD","s":"r","x":1300,"y":0.0086},{"p":"ADAGRAD","s":"r","x":1400,"y":0.0113},{"p":"ADAGRAD","s":"r","x":1500,"y":0.0063},{"p":"ADAGRAD","s":"r","x":1600,"y":0.0111},{"p":"ADAGRAD","s":"r","x":1700,"y":0.0073},{"p":"ADAGRAD","s":"r","x":1800,"y":0.0106},{"p":"ADAGRAD","s":"r","x":1900,"y":0.0047},{"p":"ADAGRAD","s":"r","x":2000,"y":0.0083},{"p":"ADAGRAD","s":"r","x":2100,"y":0.0033},{"p":"ADAGRAD","s":"r","x":2200,"y":0.0069},{"p":"ADAGRAD","s":"r","x":2300,"y":0.0043},{"p":"ADAGRAD","s":"r","x":2400,"y":0.0082},{"p":"ADAGRAD","s":"r","x":2500,"y":0.0032},{"p":"ADAGRAD","s":"r","x":2600,"y":0.0054},{"p":"ADAGRAD","s":"r","x":2700,"y":0.003},{"p":"ADAGRAD","s":"r","x":2800,"y":0.0059},{"p":"ADAGRAD","s":"r","x":2900,"y":0.0035},{"p":"ADAGRAD","s":"r","x":3000,"y":0.006},{"p":"ADAGRAD","s":"r","x":3100,"y":0.0027},{"p":"ADAGRAD","s":"r","x":3200,"y":0.0048},{"p":"ADAGRAD","s":"r","x":3300,"y":0.0017},{"p":"ADAGRAD","s":"r","x":3400,"y":0.0052},{"p":"ADAGRAD","s":"r","x":3500,"y":0.0029},{"p":"ADAGRAD","s":"r","x":3600,"y":0.0054},{"p":"ADAGRAD","s":"r","x":3700,"y":0.0017},{"p":"ADAGRAD","s":"r","x":3800,"y":0.0044},{"p":"ADAGRAD","s":"r","x":3900,"y":0.0011},{"p":"ADAGRAD","s":"r","x":4000,"y":0.0036},{"p":"ADAGRAD","s":"r","x":4100,"y":0.0019},{"p":"ADAGRAD","s":"r","x":4200,"y":0.0046},{"p":"ADAGRAD","s":"r","x":4300,"y":0.0013},{"p":"ADAGRAD","s":"r","x":4400,"y":0.003},{"p":"ADAGRAD","s":"r","x":4500,"y":0.0007},{"p":"ADAGRAD","s":"r","x":4600,"y":0.0038},{"p":"ADAGRAD","s":"r","x":4700,"y":0.0015},{"p":"ADAGRAD","s":"r","x":4800,"y":0.0042},{"p":"ADAGRAD","s":"r","x":4900,"y":0.0009},{"p":"ADAGRAD","s":"r","x":5000,"y":0.0022},
{"p":"ADAGRAD","s":"b","x":150,"y":0.12},{"p":"ADAGRAD","s":"b","x":200,"y":0.105},{"p":"ADAGRAD","s":"b","x":250,"y":0.09},{"p":"ADAGRAD","s":"b","x":300,"y":0.081},{"p":"ADAGRAD","s":"b","x":400,"y":0.0572},{"p":"ADAGRAD","s":"b","x":500,"y":0.0566},{"p":"ADAGRAD","s":"b","x":600,"y":0.042},{"p":"ADAGRAD","s":"b","x":700,"y":0.0488},{"p":"ADAGRAD","s":"b","x":800,"y":0.039},{"p":"ADAGRAD","s":"b","x":900,"y":0.0454},{"p":"ADAGRAD","s":"b","x":1000,"y":0.0338},{"p":"ADAGRAD","s":"b","x":1100,"y":0.0382},{"p":"ADAGRAD","s":"b","x":1200,"y":0.0306},{"p":"ADAGRAD","s":"b","x":1300,"y":0.0392},{"p":"ADAGRAD","s":"b","x":1400,"y":0.0316},{"p":"ADAGRAD","s":"b","x":1500,"y":0.039},{"p":"ADAGRAD","s":"b","x":1600,"y":0.0284},{"p":"ADAGRAD","s":"b","x":1700,"y":0.034},{"p":"ADAGRAD","s":"b","x":1800,"y":0.024},{"p":"ADAGRAD","s":"b","x":1900,"y":0.0338},{"p":"ADAGRAD","s":"b","x":2000,"y":0.0292},{"p":"ADAGRAD","s":"b","x":2100,"y":0.036},{"p":"ADAGRAD","s":"b","x":2200,"y":0.0242},{"p":"ADAGRAD","s":"b","x":2300,"y":0.0286},{"p":"ADAGRAD","s":"b","x":2400,"y":0.018},{"p":"ADAGRAD","s":"b","x":2500,"y":0.0248},{"p":"ADAGRAD","s":"b","x":2600,"y":0.019},{"p":"ADAGRAD","s":"b","x":2700,"y":0.0264},{"p":"ADAGRAD","s":"b","x":2800,"y":0.0168},{"p":"ADAGRAD","s":"b","x":2900,"y":0.0212},{"p":"ADAGRAD","s":"b","x":3000,"y":0.0146},{"p":"ADAGRAD","s":"b","x":3100,"y":0.0237},{"p":"ADAGRAD","s":"b","x":3200,"y":0.0166},{"p":"ADAGRAD","s":"b","x":3300,"y":0.025},{"p":"ADAGRAD","s":"b","x":3400,"y":0.0149},{"p":"ADAGRAD","s":"b","x":3500,"y":0.0215},{"p":"ADAGRAD","s":"b","x":3600,"y":0.012},{"p":"ADAGRAD","s":"b","x":3700,"y":0.0228},{"p":"ADAGRAD","s":"b","x":3800,"y":0.0157},{"p":"ADAGRAD","s":"b","x":3900,"y":0.023},{"p":"ADAGRAD","s":"b","x":4000,"y":0.0122},{"p":"ADAGRAD","s":"b","x":4100,"y":0.0201},{"p":"ADAGRAD","s":"b","x":4200,"y":0.01},{"p":"ADAGRAD","s":"b","x":4300,"y":0.0178},{"p":"ADAGRAD","s":"b","x":4400,"y":0.013},{"p":"ADAGRAD","s":"b","x":4500,"y":0.0214},{"p":"ADAGRAD","s":"b","x":4600,"y":0.0118},{"p":"ADAGRAD","s":"b","x":4700,"y":0.0177},{"p":"ADAGRAD","s":"b","x":4800,"y":0.0116},{"p":"ADAGRAD","s":"b","x":4900,"y":0.0212},{"p":"ADAGRAD","s":"b","x":5000,"y":0.017},
{"p":"ADAGRAD","s":"g","x":250,"y":0.12},{"p":"ADAGRAD","s":"g","x":300,"y":0.1},{"p":"ADAGRAD","s":"g","x":350,"y":0.078},{"p":"ADAGRAD","s":"g","x":400,"y":0.065},{"p":"ADAGRAD","s":"g","x":450,"y":0.055},{"p":"ADAGRAD","s":"g","x":500,"y":0.048},{"p":"ADAGRAD","s":"g","x":600,"y":0.04},{"p":"ADAGRAD","s":"g","x":700,"y":0.0347},{"p":"ADAGRAD","s":"g","x":800,"y":0.031},{"p":"ADAGRAD","s":"g","x":900,"y":0.028},{"p":"ADAGRAD","s":"g","x":1000,"y":0.0257},{"p":"ADAGRAD","s":"g","x":1200,"y":0.021},{"p":"ADAGRAD","s":"g","x":1400,"y":0.018},{"p":"ADAGRAD","s":"g","x":1600,"y":0.0158},{"p":"ADAGRAD","s":"g","x":1800,"y":0.0142},{"p":"ADAGRAD","s":"g","x":2000,"y":0.0134},{"p":"ADAGRAD","s":"g","x":2200,"y":0.0115},{"p":"ADAGRAD","s":"g","x":2400,"y":0.0097},{"p":"ADAGRAD","s":"g","x":2600,"y":0.0085},{"p":"ADAGRAD","s":"g","x":2800,"y":0.0075},{"p":"ADAGRAD","s":"g","x":3000,"y":0.0067},{"p":"ADAGRAD","s":"g","x":3300,"y":0.0057},{"p":"ADAGRAD","s":"g","x":3600,"y":0.0047},{"p":"ADAGRAD","s":"g","x":4000,"y":0.0036},{"p":"ADAGRAD","s":"g","x":4400,"y":0.0028},{"p":"ADAGRAD","s":"g","x":4700,"y":0.0024},{"p":"ADAGRAD","s":"g","x":5000,"y":0.0022},
{"p":"ADADELTA","s":"g","x":0,"y":0.1},{"p":"ADADELTA","s":"g","x":20,"y":0.095},{"p":"ADADELTA","s":"g","x":50,"y":0.065},{"p":"ADADELTA","s":"g","x":100,"y":0.045},{"p":"ADADELTA","s":"g","x":150,"y":0.035},{"p":"ADADELTA","s":"g","x":200,"y":0.031},{"p":"ADADELTA","s":"g","x":300,"y":0.0196},{"p":"ADADELTA","s":"g","x":400,"y":0.0268},{"p":"ADADELTA","s":"g","x":500,"y":0.023},{"p":"ADADELTA","s":"g","x":600,"y":0.0309},{"p":"ADADELTA","s":"g","x":700,"y":0.0315},{"p":"ADADELTA","s":"g","x":800,"y":0.0387},{"p":"ADADELTA","s":"g","x":900,"y":0.0279},{"p":"ADADELTA","s":"g","x":1000,"y":0.0256},{"p":"ADADELTA","s":"g","x":1100,"y":0.0313},{"p":"ADADELTA","s":"g","x":1200,"y":0.0301},{"p":"ADADELTA","s":"g","x":1300,"y":0.0308},{"p":"ADADELTA","s":"g","x":1400,"y":0.03},{"p":"ADADELTA","s":"g","x":1500,"y":0.0282},{"p":"ADADELTA","s":"g","x":1600,"y":0.0295},{"p":"ADADELTA","s":"g","x":1700,"y":0.023},{"p":"ADADELTA","s":"g","x":1800,"y":0.0324},{"p":"ADADELTA","s":"g","x":1900,"y":0.0301},{"p":"ADADELTA","s":"g","x":2000,"y":0.041},{"p":"ADADELTA","s":"g","x":2100,"y":0.0296},{"p":"ADADELTA","s":"g","x":2200,"y":0.0318},{"p":"ADADELTA","s":"g","x":2300,"y":0.037},{"p":"ADADELTA","s":"g","x":2400,"y":0.0319},{"p":"ADADELTA","s":"g","x":2500,"y":0.0285},{"p":"ADADELTA","s":"g","x":2600,"y":0.0337},{"p":"ADADELTA","s":"g","x":2700,"y":0.0269},{"p":"ADADELTA","s":"g","x":2800,"y":0.0286},{"p":"ADADELTA","s":"g","x":2900,"y":0.0233},{"p":"ADADELTA","s":"g","x":3000,"y":0.0311},{"p":"ADADELTA","s":"g","x":3100,"y":0.0328},{"p":"ADADELTA","s":"g","x":3200,"y":0.03},{"p":"ADADELTA","s":"g","x":3300,"y":0.0282},{"p":"ADADELTA","s":"g","x":3400,"y":0.0325},{"p":"ADADELTA","s":"g","x":3500,"y":0.026},{"p":"ADADELTA","s":"g","x":3600,"y":0.0284},{"p":"ADADELTA","s":"g","x":3700,"y":0.0291},{"p":"ADADELTA","s":"g","x":3800,"y":0.036},{"p":"ADADELTA","s":"g","x":3900,"y":0.0266},{"p":"ADADELTA","s":"g","x":4000,"y":0.0298},{"p":"ADADELTA","s":"g","x":4100,"y":0.022},{"p":"ADADELTA","s":"g","x":4200,"y":0.0209},{"p":"ADADELTA","s":"g","x":4300,"y":0.0245},{"p":"ADADELTA","s":"g","x":4400,"y":0.0377},{"p":"ADADELTA","s":"g","x":4500,"y":0.0279},{"p":"ADADELTA","s":"g","x":4600,"y":0.0256},{"p":"ADADELTA","s":"g","x":4700,"y":0.0243},{"p":"ADADELTA","s":"g","x":4800,"y":0.0301},{"p":"ADADELTA","s":"g","x":4900,"y":0.0328},{"p":"ADADELTA","s":"g","x":5000,"y":0.031},
{"p":"RMSPROP","s":"r","x":500,"y":0.2},{"p":"RMSPROP","s":"r","x":1000,"y":0.13},{"p":"RMSPROP","s":"r","x":1300,"y":0.101},{"p":"RMSPROP","s":"r","x":1400,"y":0.0945},{"p":"RMSPROP","s":"r","x":1500,"y":0.0868},{"p":"RMSPROP","s":"r","x":1600,"y":0.0839},{"p":"RMSPROP","s":"r","x":1700,"y":0.0775},{"p":"RMSPROP","s":"r","x":1800,"y":0.0765},{"p":"RMSPROP","s":"r","x":1900,"y":0.0717},{"p":"RMSPROP","s":"r","x":2000,"y":0.0704},{"p":"RMSPROP","s":"r","x":2100,"y":0.065},{"p":"RMSPROP","s":"r","x":2200,"y":0.0633},{"p":"RMSPROP","s":"r","x":2300,"y":0.0566},{"p":"RMSPROP","s":"r","x":2400,"y":0.055},{"p":"RMSPROP","s":"r","x":2500,"y":0.0494},{"p":"RMSPROP","s":"r","x":2600,"y":0.0485},{"p":"RMSPROP","s":"r","x":2700,"y":0.0441},{"p":"RMSPROP","s":"r","x":2800,"y":0.0448},{"p":"RMSPROP","s":"r","x":2900,"y":0.0405},{"p":"RMSPROP","s":"r","x":3000,"y":0.0412},{"p":"RMSPROP","s":"r","x":3100,"y":0.037},{"p":"RMSPROP","s":"r","x":3200,"y":0.0365},{"p":"RMSPROP","s":"r","x":3300,"y":0.0318},{"p":"RMSPROP","s":"r","x":3400,"y":0.0319},{"p":"RMSPROP","s":"r","x":3500,"y":0.0285},{"p":"RMSPROP","s":"r","x":3600,"y":0.0295},{"p":"RMSPROP","s":"r","x":3700,"y":0.0272},{"p":"RMSPROP","s":"r","x":3800,"y":0.0284},{"p":"RMSPROP","s":"r","x":3900,"y":0.025},{"p":"RMSPROP","s":"r","x":4000,"y":0.0253},{"p":"RMSPROP","s":"r","x":4100,"y":0.0226},{"p":"RMSPROP","s":"r","x":4200,"y":0.024},{"p":"RMSPROP","s":"r","x":4300,"y":0.0214},{"p":"RMSPROP","s":"r","x":4400,"y":0.0225},{"p":"RMSPROP","s":"r","x":4500,"y":0.0191},{"p":"RMSPROP","s":"r","x":4600,"y":0.0198},{"p":"RMSPROP","s":"r","x":4700,"y":0.0165},{"p":"RMSPROP","s":"r","x":4800,"y":0.0182},{"p":"RMSPROP","s":"r","x":4900,"y":0.016},{"p":"RMSPROP","s":"r","x":5000,"y":0.016},
{"p":"RMSPROP","s":"b","x":300,"y":0.15},{"p":"RMSPROP","s":"b","x":430,"y":0.1},{"p":"RMSPROP","s":"b","x":500,"y":0.085},{"p":"RMSPROP","s":"b","x":600,"y":0.062},{"p":"RMSPROP","s":"b","x":700,"y":0.061},{"p":"RMSPROP","s":"b","x":800,"y":0.049},{"p":"RMSPROP","s":"b","x":900,"y":0.0495},{"p":"RMSPROP","s":"b","x":1000,"y":0.0395},{"p":"RMSPROP","s":"b","x":1100,"y":0.0455},{"p":"RMSPROP","s":"b","x":1200,"y":0.0345},{"p":"RMSPROP","s":"b","x":1300,"y":0.04},{"p":"RMSPROP","s":"b","x":1400,"y":0.0345},{"p":"RMSPROP","s":"b","x":1500,"y":0.0415},{"p":"RMSPROP","s":"b","x":1600,"y":0.035},{"p":"RMSPROP","s":"b","x":1700,"y":0.041},{"p":"RMSPROP","s":"b","x":1800,"y":0.034},{"p":"RMSPROP","s":"b","x":1900,"y":0.0405},{"p":"RMSPROP","s":"b","x":2000,"y":0.035},{"p":"RMSPROP","s":"b","x":2100,"y":0.042},{"p":"RMSPROP","s":"b","x":2200,"y":0.0345},{"p":"RMSPROP","s":"b","x":2300,"y":0.048},{"p":"RMSPROP","s":"b","x":2400,"y":0.032},{"p":"RMSPROP","s":"b","x":2500,"y":0.035},{"p":"RMSPROP","s":"b","x":2600,"y":0.025},{"p":"RMSPROP","s":"b","x":2700,"y":0.0305},{"p":"RMSPROP","s":"b","x":2800,"y":0.0295},{"p":"RMSPROP","s":"b","x":2900,"y":0.0355},{"p":"RMSPROP","s":"b","x":3000,"y":0.0255},{"p":"RMSPROP","s":"b","x":3100,"y":0.031},{"p":"RMSPROP","s":"b","x":3200,"y":0.0245},{"p":"RMSPROP","s":"b","x":3300,"y":0.0305},{"p":"RMSPROP","s":"b","x":3400,"y":0.023},{"p":"RMSPROP","s":"b","x":3500,"y":0.03},{"p":"RMSPROP","s":"b","x":3600,"y":0.021},{"p":"RMSPROP","s":"b","x":3700,"y":0.0265},{"p":"RMSPROP","s":"b","x":3800,"y":0.02},{"p":"RMSPROP","s":"b","x":3900,"y":0.027},{"p":"RMSPROP","s":"b","x":4000,"y":0.0195},{"p":"RMSPROP","s":"b","x":4100,"y":0.027},{"p":"RMSPROP","s":"b","x":4200,"y":0.02},{"p":"RMSPROP","s":"b","x":4300,"y":0.025},{"p":"RMSPROP","s":"b","x":4400,"y":0.016},{"p":"RMSPROP","s":"b","x":4500,"y":0.0235},{"p":"RMSPROP","s":"b","x":4600,"y":0.0195},{"p":"RMSPROP","s":"b","x":4700,"y":0.0275},{"p":"RMSPROP","s":"b","x":4800,"y":0.0205},{"p":"RMSPROP","s":"b","x":4900,"y":0.026},{"p":"RMSPROP","s":"b","x":5000,"y":0.026},
{"p":"ADAM","s":"r","x":300,"y":0.15},{"p":"ADAM","s":"r","x":400,"y":0.1},{"p":"ADAM","s":"r","x":500,"y":0.0795},{"p":"ADAM","s":"r","x":600,"y":0.063},{"p":"ADAM","s":"r","x":700,"y":0.052},{"p":"ADAM","s":"r","x":800,"y":0.043},{"p":"ADAM","s":"r","x":900,"y":0.034},{"p":"ADAM","s":"r","x":1000,"y":0.025},{"p":"ADAM","s":"r","x":1100,"y":0.021},{"p":"ADAM","s":"r","x":1200,"y":0.021},{"p":"ADAM","s":"r","x":1300,"y":0.019},{"p":"ADAM","s":"r","x":1400,"y":0.015},{"p":"ADAM","s":"r","x":1500,"y":0.011},{"p":"ADAM","s":"r","x":1600,"y":0.009},{"p":"ADAM","s":"r","x":1800,"y":0.007},{"p":"ADAM","s":"r","x":2000,"y":0.0065},{"p":"ADAM","s":"r","x":2200,"y":0.006},{"p":"ADAM","s":"r","x":2400,"y":0.0055},{"p":"ADAM","s":"r","x":2600,"y":0.005},{"p":"ADAM","s":"r","x":2800,"y":0.005},{"p":"ADAM","s":"r","x":3000,"y":0.0048},{"p":"ADAM","s":"r","x":3200,"y":0.0045},{"p":"ADAM","s":"r","x":3400,"y":0.004},{"p":"ADAM","s":"r","x":3600,"y":0.003},{"p":"ADAM","s":"r","x":4000,"y":0.0025},{"p":"ADAM","s":"r","x":4400,"y":0.002},{"p":"ADAM","s":"r","x":4800,"y":0.002},{"p":"ADAM","s":"r","x":5000,"y":0.003},
{"p":"ADAM","s":"b","x":400,"y":0.15},{"p":"ADAM","s":"b","x":480,"y":0.1},{"p":"ADAM","s":"b","x":550,"y":0.07},{"p":"ADAM","s":"b","x":600,"y":0.055},{"p":"ADAM","s":"b","x":650,"y":0.05},{"p":"ADAM","s":"b","x":700,"y":0.045},{"p":"ADAM","s":"b","x":750,"y":0.047},{"p":"ADAM","s":"b","x":800,"y":0.052},{"p":"ADAM","s":"b","x":850,"y":0.054},{"p":"ADAM","s":"b","x":900,"y":0.045},{"p":"ADAM","s":"b","x":950,"y":0.03},{"p":"ADAM","s":"b","x":1000,"y":0.02},{"p":"ADAM","s":"b","x":1050,"y":0.017},{"p":"ADAM","s":"b","x":1100,"y":0.02},{"p":"ADAM","s":"b","x":1150,"y":0.028},{"p":"ADAM","s":"b","x":1200,"y":0.025},{"p":"ADAM","s":"b","x":1300,"y":0.028},{"p":"ADAM","s":"b","x":1400,"y":0.031},{"p":"ADAM","s":"b","x":1500,"y":0.029},{"p":"ADAM","s":"b","x":1600,"y":0.028},{"p":"ADAM","s":"b","x":1700,"y":0.025},{"p":"ADAM","s":"b","x":1800,"y":0.019},{"p":"ADAM","s":"b","x":1900,"y":0.02},{"p":"ADAM","s":"b","x":2000,"y":0.029},{"p":"ADAM","s":"b","x":2100,"y":0.027},{"p":"ADAM","s":"b","x":2200,"y":0.025},{"p":"ADAM","s":"b","x":2300,"y":0.022},{"p":"ADAM","s":"b","x":2400,"y":0.024},{"p":"ADAM","s":"b","x":2500,"y":0.02},{"p":"ADAM","s":"b","x":2600,"y":0.016},{"p":"ADAM","s":"b","x":2700,"y":0.018},{"p":"ADAM","s":"b","x":2800,"y":0.02},{"p":"ADAM","s":"b","x":2900,"y":0.016},{"p":"ADAM","s":"b","x":3000,"y":0.018},{"p":"ADAM","s":"b","x":3100,"y":0.015},{"p":"ADAM","s":"b","x":3200,"y":0.012},{"p":"ADAM","s":"b","x":3300,"y":0.017},{"p":"ADAM","s":"b","x":3400,"y":0.014},{"p":"ADAM","s":"b","x":3500,"y":0.018},{"p":"ADAM","s":"b","x":3600,"y":0.016},{"p":"ADAM","s":"b","x":3700,"y":0.014},{"p":"ADAM","s":"b","x":3800,"y":0.017},{"p":"ADAM","s":"b","x":3900,"y":0.013},{"p":"ADAM","s":"b","x":4000,"y":0.013},{"p":"ADAM","s":"b","x":4200,"y":0.013},{"p":"ADAM","s":"b","x":4400,"y":0.017},{"p":"ADAM","s":"b","x":4500,"y":0.012},{"p":"ADAM","s":"b","x":4600,"y":0.013},{"p":"ADAM","s":"b","x":4800,"y":0.015},{"p":"ADAM","s":"b","x":5000,"y":0.019},
{"p":"ADAM","s":"g","x":1000,"y":0.16},{"p":"ADAM","s":"g","x":1500,"y":0.12},{"p":"ADAM","s":"g","x":1870,"y":0.1},{"p":"ADAM","s":"g","x":2000,"y":0.095},{"p":"ADAM","s":"g","x":2200,"y":0.087},{"p":"ADAM","s":"g","x":2400,"y":0.078},{"p":"ADAM","s":"g","x":2600,"y":0.071},{"p":"ADAM","s":"g","x":2800,"y":0.065},{"p":"ADAM","s":"g","x":3000,"y":0.06},{"p":"ADAM","s":"g","x":3200,"y":0.056},{"p":"ADAM","s":"g","x":3400,"y":0.051},{"p":"ADAM","s":"g","x":3600,"y":0.047},{"p":"ADAM","s":"g","x":3800,"y":0.044},{"p":"ADAM","s":"g","x":4000,"y":0.041},{"p":"ADAM","s":"g","x":4200,"y":0.038},{"p":"ADAM","s":"g","x":4400,"y":0.036},{"p":"ADAM","s":"g","x":4600,"y":0.034},{"p":"ADAM","s":"g","x":4800,"y":0.033},{"p":"ADAM","s":"g","x":5000,"y":0.031},
{"p":"ADAMAX","s":"r","x":300,"y":0.13},{"p":"ADAMAX","s":"r","x":415,"y":0.1},{"p":"ADAMAX","s":"r","x":500,"y":0.093},{"p":"ADAMAX","s":"r","x":600,"y":0.08},{"p":"ADAMAX","s":"r","x":700,"y":0.067},{"p":"ADAMAX","s":"r","x":800,"y":0.057},{"p":"ADAMAX","s":"r","x":900,"y":0.048},{"p":"ADAMAX","s":"r","x":1000,"y":0.04},{"p":"ADAMAX","s":"r","x":1200,"y":0.033},{"p":"ADAMAX","s":"r","x":1400,"y":0.028},{"p":"ADAMAX","s":"r","x":1600,"y":0.023},{"p":"ADAMAX","s":"r","x":1800,"y":0.019},{"p":"ADAMAX","s":"r","x":2000,"y":0.016},{"p":"ADAMAX","s":"r","x":2200,"y":0.013},{"p":"ADAMAX","s":"r","x":2400,"y":0.0105},{"p":"ADAMAX","s":"r","x":2600,"y":0.0085},{"p":"ADAMAX","s":"r","x":2800,"y":0.007},{"p":"ADAMAX","s":"r","x":3000,"y":0.006},{"p":"ADAMAX","s":"r","x":3400,"y":0.0045},{"p":"ADAMAX","s":"r","x":3800,"y":0.0034},{"p":"ADAMAX","s":"r","x":4200,"y":0.0027},{"p":"ADAMAX","s":"r","x":4600,"y":0.0022},{"p":"ADAMAX","s":"r","x":5000,"y":0.002},
{"p":"ADAMAX","s":"b","x":50,"y":0.15},{"p":"ADAMAX","s":"b","x":120,"y":0.1},{"p":"ADAMAX","s":"b","x":150,"y":0.09},{"p":"ADAMAX","s":"b","x":200,"y":0.074},{"p":"ADAMAX","s":"b","x":250,"y":0.055},{"p":"ADAMAX","s":"b","x":300,"y":0.04},{"p":"ADAMAX","s":"b","x":350,"y":0.034},{"p":"ADAMAX","s":"b","x":400,"y":0.03},{"p":"ADAMAX","s":"b","x":450,"y":0.024},{"p":"ADAMAX","s":"b","x":500,"y":0.018},{"p":"ADAMAX","s":"b","x":600,"y":0.014},{"p":"ADAMAX","s":"b","x":700,"y":0.013},{"p":"ADAMAX","s":"b","x":750,"y":0.014},{"p":"ADAMAX","s":"b","x":800,"y":0.012},{"p":"ADAMAX","s":"b","x":900,"y":0.01},{"p":"ADAMAX","s":"b","x":1000,"y":0.008},{"p":"ADAMAX","s":"b","x":1100,"y":0.008},{"p":"ADAMAX","s":"b","x":1200,"y":0.007},{"p":"ADAMAX","s":"b","x":1400,"y":0.006},{"p":"ADAMAX","s":"b","x":1600,"y":0.0055},{"p":"ADAMAX","s":"b","x":1800,"y":0.005},{"p":"ADAMAX","s":"b","x":2000,"y":0.006},{"p":"ADAMAX","s":"b","x":2200,"y":0.005},{"p":"ADAMAX","s":"b","x":2400,"y":0.006},{"p":"ADAMAX","s":"b","x":2600,"y":0.004},{"p":"ADAMAX","s":"b","x":2800,"y":0.005},{"p":"ADAMAX","s":"b","x":3000,"y":0.005},{"p":"ADAMAX","s":"b","x":3200,"y":0.004},{"p":"ADAMAX","s":"b","x":3400,"y":0.004},{"p":"ADAMAX","s":"b","x":3600,"y":0.003},{"p":"ADAMAX","s":"b","x":4000,"y":0.003},{"p":"ADAMAX","s":"b","x":4400,"y":0.0025},{"p":"ADAMAX","s":"b","x":4800,"y":0.003},{"p":"ADAMAX","s":"b","x":5000,"y":0.004},
{"p":"ADAMAX","s":"g","x":1200,"y":0.125},{"p":"ADAMAX","s":"g","x":1600,"y":0.113},{"p":"ADAMAX","s":"g","x":2000,"y":0.104},{"p":"ADAMAX","s":"g","x":2230,"y":0.1},{"p":"ADAMAX","s":"g","x":2400,"y":0.096},{"p":"ADAMAX","s":"g","x":2600,"y":0.093},{"p":"ADAMAX","s":"g","x":2800,"y":0.09},{"p":"ADAMAX","s":"g","x":3000,"y":0.088},{"p":"ADAMAX","s":"g","x":3200,"y":0.084},{"p":"ADAMAX","s":"g","x":3400,"y":0.081},{"p":"ADAMAX","s":"g","x":3600,"y":0.079},{"p":"ADAMAX","s":"g","x":3800,"y":0.077},{"p":"ADAMAX","s":"g","x":4000,"y":0.075},{"p":"ADAMAX","s":"g","x":4200,"y":0.073},{"p":"ADAMAX","s":"g","x":4400,"y":0.071},{"p":"ADAMAX","s":"g","x":4600,"y":0.07},{"p":"ADAMAX","s":"g","x":4800,"y":0.068},{"p":"ADAMAX","s":"g","x":5000,"y":0.067},
{"p":"OMAS","s":"r","x":0,"y":0.1},{"p":"OMAS","s":"r","x":50,"y":0.075},{"p":"OMAS","s":"r","x":100,"y":0.058},{"p":"OMAS","s":"r","x":150,"y":0.048},{"p":"OMAS","s":"r","x":200,"y":0.042},{"p":"OMAS","s":"r","x":300,"y":0.031},{"p":"OMAS","s":"r","x":400,"y":0.0245},{"p":"OMAS","s":"r","x":500,"y":0.0232},{"p":"OMAS","s":"r","x":600,"y":0.0185},{"p":"OMAS","s":"r","x":700,"y":0.0188},{"p":"OMAS","s":"r","x":800,"y":0.0158},{"p":"OMAS","s":"r","x":900,"y":0.0163},{"p":"OMAS","s":"r","x":1000,"y":0.0132},{"p":"OMAS","s":"r","x":1200,"y":0.012},{"p":"OMAS","s":"r","x":1400,"y":0.0105},{"p":"OMAS","s":"r","x":1600,"y":0.0095},{"p":"OMAS","s":"r","x":1800,"y":0.0082},{"p":"OMAS","s":"r","x":2000,"y":0.007},{"p":"OMAS","s":"r","x":2200,"y":0.0062},{"p":"OMAS","s":"r","x":2400,"y":0.0054},{"p":"OMAS","s":"r","x":2600,"y":0.0048},{"p":"OMAS","s":"r","x":2800,"y":0.0043},{"p":"OMAS","s":"r","x":3000,"y":0.004},{"p":"OMAS","s":"r","x":3300,"y":0.0034},{"p":"OMAS","s":"r","x":3600,"y":0.003},{"p":"OMAS","s":"r","x":4000,"y":0.0025},{"p":"OMAS","s":"r","x":4300,"y":0.0022},{"p":"OMAS","s":"r","x":4600,"y":0.002},{"p":"OMAS","s":"r","x":5000,"y":0.002},
{"p":"OMAS","s":"b","x":0,"y":0.1},{"p":"OMAS","s":"b","x":30,"y":0.08},{"p":"OMAS","s":"b","x":50,"y":0.06},{"p":"OMAS","s":"b","x":100,"y":0.037},{"p":"OMAS","s":"b","x":150,"y":0.021},{"p":"OMAS","s":"b","x":200,"y":0.023},{"p":"OMAS","s":"b","x":300,"y":0.011},{"p":"OMAS","s":"b","x":400,"y":0.0135},{"p":"OMAS","s":"b","x":500,"y":0.0065},{"p":"OMAS","s":"b","x":600,"y":0.0111},{"p":"OMAS","s":"b","x":700,"y":0.0042},{"p":"OMAS","s":"b","x":800,"y":0.0068},{"p":"OMAS","s":"b","x":900,"y":0.0019},{"p":"OMAS","s":"b","x":1000,"y":0.0078},{"p":"OMAS","s":"b","x":1100,"y":0.0034},{"p":"OMAS","s":"b","x":1200,"y":0.0072},{"p":"OMAS","s":"b","x":1300,"y":0.002},{"p":"OMAS","s":"b","x":1400,"y":0.0049},{"p":"OMAS","s":"b","x":1500,"y":0.0001},{"p":"OMAS","s":"b","x":1600,"y":0.0052},{"p":"OMAS","s":"b","x":1700,"y":0.0017},{"p":"OMAS","s":"b","x":1800,"y":0.0054},{"p":"OMAS","s":"b","x":1900,"y":0.0002},{"p":"OMAS","s":"b","x":2000,"y":0.0038},{"p":"OMAS","s":"b","x":2100,"y":0.0005},{"p":"OMAS","s":"b","x":2200,"y":0.0025},{"p":"OMAS","s":"b","x":2300,"y":0.0012},{"p":"OMAS","s":"b","x":2400,"y":0.0034},{"p":"OMAS","s":"b","x":2500,"y":0.001},{"p":"OMAS","s":"b","x":2600,"y":0.0023},{"p":"OMAS","s":"b","x":2700,"y":0.0006},{"p":"OMAS","s":"b","x":2800,"y":0.003},{"p":"OMAS","s":"b","x":2900,"y":0.0014},{"p":"OMAS","s":"b","x":3000,"y":0.0035},{"p":"OMAS","s":"b","x":3100,"y":0.0011},{"p":"OMAS","s":"b","x":3200,"y":0.0028},{"p":"OMAS","s":"b","x":3300,"y":0.0005},{"p":"OMAS","s":"b","x":3400,"y":0.0032},{"p":"OMAS","s":"b","x":3500,"y":0.0015},{"p":"OMAS","s":"b","x":3600,"y":0.0035},{"p":"OMAS","s":"b","x":3700,"y":0.0008},{"p":"OMAS","s":"b","x":3800,"y":0.0029},{"p":"OMAS","s":"b","x":3900,"y":0.0005},{"p":"OMAS","s":"b","x":4000,"y":0.0025},{"p":"OMAS","s":"b","x":4100,"y":0.0012},{"p":"OMAS","s":"b","x":4200,"y":0.0034},{"p":"OMAS","s":"b","x":4300,"y":0.001},{"p":"OMAS","s":"b","x":4400,"y":0.0023},{"p":"OMAS","s":"b","x":4500,"y":0.0006},{"p":"OMAS","s":"b","x":4600,"y":0.003},{"p":"OMAS","s":"b","x":4700,"y":0.0014},{"p":"OMAS","s":"b","x":4800,"y":0.0035},{"p":"OMAS","s":"b","x":4900,"y":0.0011},{"p":"OMAS","s":"b","x":5000,"y":0.002},
{"p":"OMAS","s":"g","x":0,"y":0.105},{"p":"OMAS","s":"g","x":20,"y":0.1},{"p":"OMAS","s":"g","x":50,"y":0.09},{"p":"OMAS","s":"g","x":100,"y":0.082},{"p":"OMAS","s":"g","x":150,"y":0.076},{"p":"OMAS","s":"g","x":200,"y":0.071},{"p":"OMAS","s":"g","x":300,"y":0.065},{"p":"OMAS","s":"g","x":400,"y":0.062},{"p":"OMAS","s":"g","x":500,"y":0.0586},{"p":"OMAS","s":"g","x":600,"y":0.056},{"p":"OMAS","s":"g","x":700,"y":0.053},{"p":"OMAS","s":"g","x":800,"y":0.051},{"p":"OMAS","s":"g","x":1000,"y":0.0485},{"p":"OMAS","s":"g","x":1200,"y":0.046},{"p":"OMAS","s":"g","x":1500,"y":0.044},{"p":"OMAS","s":"g","x":1800,"y":0.041},{"p":"OMAS","s":"g","x":2000,"y":0.0396},{"p":"OMAS","s":"g","x":2300,"y":0.038},{"p":"OMAS","s":"g","x":2500,"y":0.0374},{"p":"OMAS","s":"g","x":2800,"y":0.0358},{"p":"OMAS","s":"g","x":3000,"y":0.035},{"p":"OMAS","s":"g","x":3500,"y":0.0343},{"p":"OMAS","s":"g","x":4000,"y":0.033},{"p":"OMAS","s":"g","x":4500,"y":0.0318},{"p":"OMAS","s":"g","x":5000,"y":0.03},
{"p":"OMAP","s":"r","x":0,"y":0.1},{"p":"OMAP","s":"r","x":50,"y":0.075},{"p":"OMAP","s":"r","x":100,"y":0.055},{"p":"OMAP","s":"r","x":150,"y":0.046},{"p":"OMAP","s":"r","x":200,"y":0.04},{"p":"OMAP","s":"r","x":300,"y":0.031},{"p":"OMAP","s":"r","x":400,"y":0.0235},{"p":"OMAP","s":"r","x":500,"y":0.0205},{"p":"OMAP","s":"r","x":600,"y":0.0168},{"p":"OMAP","s":"r","x":700,"y":0.0155},{"p":"OMAP","s":"r","x":800,"y":0.0138},{"p":"OMAP","s":"r","x":900,"y":0.0132},{"p":"OMAP","s":"r","x":1000,"y":0.012},{"p":"OMAP","s":"r","x":1200,"y":0.0105},{"p":"OMAP","s":"r","x":1400,"y":0.0095},{"p":"OMAP","s":"r","x":1600,"y":0.0085},{"p":"OMAP","s":"r","x":1800,"y":0.0072},{"p":"OMAP","s":"r","x":2000,"y":0.0062},{"p":"OMAP","s":"r","x":2200,"y":0.0056},{"p":"OMAP","s":"r","x":2500,"y":0.005},{"p":"OMAP","s":"r","x":2800,"y":0.0045},{"p":"OMAP","s":"r","x":3000,"y":0.004},{"p":"OMAP","s":"r","x":3500,"y":0.0035},{"p":"OMAP","s":"r","x":4000,"y":0.003},{"p":"OMAP","s":"r","x":4500,"y":0.0025},{"p":"OMAP","s":"r","x":5000,"y":0.002},
{"p":"OMAP","s":"b","x":0,"y":0.1},{"p":"OMAP","s":"b","x":30,"y":0.085},{"p":"OMAP","s":"b","x":50,"y":0.06},{"p":"OMAP","s":"b","x":100,"y":0.0325},{"p":"OMAP","s":"b","x":150,"y":0.0315},{"p":"OMAP","s":"b","x":200,"y":0.0185},{"p":"OMAP","s":"b","x":300,"y":0.017},{"p":"OMAP","s":"b","x":400,"y":0.0075},{"p":"OMAP","s":"b","x":500,"y":0.0125},{"p":"OMAP","s":"b","x":600,"y":0.0064},{"p":"OMAP","s":"b","x":700,"y":0.011},{"p":"OMAP","s":"b","x":800,"y":0.0041},{"p":"OMAP","s":"b","x":900,"y":0.008},{"p":"OMAP","s":"b","x":1000,"y":0.002},{"p":"OMAP","s":"b","x":1100,"y":0.008},{"p":"OMAP","s":"b","x":1200,"y":0.0043},{"p":"OMAP","s":"b","x":1300,"y":0.0078},{"p":"OMAP","s":"b","x":1400,"y":0.002},{"p":"OMAP","s":"b","x":1500,"y":0.0058},{"p":"OMAP","s":"b","x":1600,"y":0.0008},{"p":"OMAP","s":"b","x":1700,"y":0.0045},{"p":"OMAP","s":"b","x":1800,"y":0.0019},{"p":"OMAP","s":"b","x":1900,"y":0.0059},{"p":"OMAP","s":"b","x":2000,"y":0.0009},{"p":"OMAP","s":"b","x":2100,"y":0.0034},{"p":"OMAP","s":"b","x":2200,"y":0.0014},{"p":"OMAP","s":"b","x":2300,"y":0.0043},{"p":"OMAP","s":"b","x":2400,"y":0.0023},{"p":"OMAP","s":"b","x":2500,"y":0.0047},{"p":"OMAP","s":"b","x":2600,"y":0.0018},{"p":"OMAP","s":"b","x":2700,"y":0.0038},{"p":"OMAP","s":"b","x":2800,"y":0.001},{"p":"OMAP","s":"b","x":2900,"y":0.0042},{"p":"OMAP","s":"b","x":3000,"y":0.0023},{"p":"OMAP","s":"b","x":3100,"y":0.0045},{"p":"OMAP","s":"b","x":3200,"y":0.0013},{"p":"OMAP","s":"b","x":3300,"y":0.0037},{"p":"OMAP","s":"b","x":3400,"y":0.0008},{"p":"OMAP","s":"b","x":3500,"y":0.003},{"p":"OMAP","s":"b","x":3600,"y":0.0016},{"p":"OMAP","s":"b","x":3700,"y":0.0041},{"p":"OMAP","s":"b","x":3800,"y":0.0011},{"p":"OMAP","s":"b","x":3900,"y":0.0028},{"p":"OMAP","s":"b","x":4000,"y":0.0007},{"p":"OMAP","s":"b","x":4100,"y":0.0036},{"p":"OMAP","s":"b","x":4200,"y":0.0016},{"p":"OMAP","s":"b","x":4300,"y":0.004},{"p":"OMAP","s":"b","x":4400,"y":0.0011},{"p":"OMAP","s":"b","x":4500,"y":0.0031},{"p":"OMAP","s":"b","x":4600,"y":0.0003},{"p":"OMAP","s":"b","x":4700,"y":0.0035},{"p":"OMAP","s":"b","x":4800,"y":0.0016},{"p":"OMAP","s":"b","x":4900,"y":0.0038},{"p":"OMAP","s":"b","x":5000,"y":0.002},
{"p":"OMAP","s":"g","x":0,"y":0.105},{"p":"OMAP","s":"g","x":20,"y":0.1},{"p":"OMAP","s":"g","x":50,"y":0.09},{"p":"OMAP","s":"g","x":100,"y":0.08},{"p":"OMAP","s":"g","x":150,"y":0.075},{"p":"OMAP","s":"g","x":200,"y":0.072},{"p":"OMAP","s":"g","x":300,"y":0.066},{"p":"OMAP","s":"g","x":400,"y":0.062},{"p":"OMAP","s":"g","x":500,"y":0.058},{"p":"OMAP","s":"g","x":600,"y":0.055},{"p":"OMAP","s":"g","x":700,"y":0.053},{"p":"OMAP","s":"g","x":800,"y":0.051},{"p":"OMAP","s":"g","x":1000,"y":0.048},{"p":"OMAP","s":"g","x":1200,"y":0.045},{"p":"OMAP","s":"g","x":1500,"y":0.042},{"p":"OMAP","s":"g","x":1800,"y":0.039},{"p":"OMAP","s":"g","x":2000,"y":0.0375},{"p":"OMAP","s":"g","x":2500,"y":0.035},{"p":"OMAP","s":"g","x":3000,"y":0.033},{"p":"OMAP","s":"g","x":3500,"y":0.032},{"p":"OMAP","s":"g","x":4000,"y":0.0305},{"p":"OMAP","s":"g","x":4500,"y":0.029},{"p":"OMAP","s":"g","x":5000,"y":0.028},
{"p":"MSPI","s":"r","x":0,"y":0.1},{"p":"MSPI","s":"r","x":20,"y":0.08},{"p":"MSPI","s":"r","x":50,"y":0.05},{"p":"MSPI","s":"r","x":100,"y":0.026},{"p":"MSPI","s":"r","x":150,"y":0.0212},{"p":"MSPI","s":"r","x":200,"y":0.014},{"p":"MSPI","s":"r","x":300,"y":0.0156},{"p":"MSPI","s":"r","x":400,"y":0.0082},{"p":"MSPI","s":"r","x":500,"y":0.0108},{"p":"MSPI","s":"r","x":600,"y":0.0059},{"p":"MSPI","s":"r","x":700,"y":0.0118},{"p":"MSPI","s":"r","x":800,"y":0.0069},{"p":"MSPI","s":"r","x":900,"y":0.012},{"p":"MSPI","s":"r","x":1000,"y":0.0056},{"p":"MSPI","s":"r","x":1100,"y":0.009},{"p":"MSPI","s":"r","x":1200,"y":0.0049},{"p":"MSPI","s":"r","x":1300,"y":0.0091},{"p":"MSPI","s":"r","x":1400,"y":0.006},{"p":"MSPI","s":"r","x":1500,"y":0.009},{"p":"MSPI","s":"r","x":1600,"y":0.0042},{"p":"MSPI","s":"r","x":1700,"y":0.0074},{"p":"MSPI","s":"r","x":1800,"y":0.0031},{"p":"MSPI","s":"r","x":1900,"y":0.006},{"p":"MSPI","s":"r","x":2000,"y":0.0038},{"p":"MSPI","s":"r","x":2100,"y":0.007},{"p":"MSPI","s":"r","x":2200,"y":0.0028},{"p":"MSPI","s":"r","x":2300,"y":0.0049},{"p":"MSPI","s":"r","x":2400,"y":0.002},{"p":"MSPI","s":"r","x":2500,"y":0.0057},{"p":"MSPI","s":"r","x":2600,"y":0.0033},{"p":"MSPI","s":"r","x":2700,"y":0.0048},{"p":"MSPI","s":"r","x":2800,"y":0.0027},{"p":"MSPI","s":"r","x":2900,"y":0.0038},{"p":"MSPI","s":"r","x":3000,"y":0.0018},{"p":"MSPI","s":"r","x":3100,"y":0.0039},{"p":"MSPI","s":"r","x":3200,"y":0.0024},{"p":"MSPI","s":"r","x":3300,"y":0.0039},{"p":"MSPI","s":"r","x":3400,"y":0.0016},{"p":"MSPI","s":"r","x":3500,"y":0.0032},{"p":"MSPI","s":"r","x":3600,"y":0.0012},{"p":"MSPI","s":"r","x":3700,"y":0.0027},{"p":"MSPI","s":"r","x":3800,"y":0.0016},{"p":"MSPI","s":"r","x":3900,"y":0.0032},{"p":"MSPI","s":"r","x":4000,"y":0.0012},{"p":"MSPI","s":"r","x":4100,"y":0.0022},{"p":"MSPI","s":"r","x":4200,"y":0.0008},{"p":"MSPI","s":"r","x":4300,"y":0.0026},{"p":"MSPI","s":"r","x":4400,"y":0.0012},{"p":"MSPI","s":"r","x":4500,"y":0.0028},{"p":"MSPI","s":"r","x":4600,"y":0.0008},{"p":"MSPI","s":"r","x":4700,"y":0.002},{"p":"MSPI","s":"r","x":4800,"y":0.0003},{"p":"MSPI","s":"r","x":4900,"y":0.0023},{"p":"MSPI","s":"r","x":5000,"y":0.0012},
{"p":"MSPI","s":"b","x":0,"y":0.1},{"p":"MSPI","s":"b","x":20,"y":0.09},{"p":"MSPI","s":"b","x":50,"y":0.062},{"p":"MSPI","s":"b","x":100,"y":0.0355},{"p":"MSPI","s":"b","x":150,"y":0.0365},{"p":"MSPI","s":"b","x":200,"y":0.027},{"p":"MSPI","s":"b","x":300,"y":0.03},{"p":"MSPI","s":"b","x":400,"y":0.019},{"p":"MSPI","s":"b","x":500,"y":0.0225},{"p":"MSPI","s":"b","x":600,"y":0.014},{"p":"MSPI","s":"b","x":700,"y":0.022},{"p":"MSPI","s":"b","x":800,"y":0.0155},{"p":"MSPI","s":"b","x":900,"y":0.0215},{"p":"MSPI","s":"b","x":1000,"y":0.012},{"p":"MSPI","s":"b","x":1100,"y":0.0181},{"p":"MSPI","s":"b","x":1200,"y":0.0114},{"p":"MSPI","s":"b","x":1300,"y":0.0163},{"p":"MSPI","s":"b","x":1400,"y":0.0128},{"p":"MSPI","s":"b","x":1500,"y":0.0181},{"p":"MSPI","s":"b","x":1600,"y":0.0114},{"p":"MSPI","s":"b","x":1700,"y":0.0147},{"p":"MSPI","s":"b","x":1800,"y":0.01},{"p":"MSPI","s":"b","x":1900,"y":0.0161},{"p":"MSPI","s":"b","x":2000,"y":0.0114},{"p":"MSPI","s":"b","x":2100,"y":0.0168},{"p":"MSPI","s":"b","x":2200,"y":0.0102},{"p":"MSPI","s":"b","x":2300,"y":0.0144},{"p":"MSPI","s":"b","x":2400,"y":0.0082},{"p":"MSPI","s":"b","x":2500,"y":0.0152},{"p":"MSPI","s":"b","x":2600,"y":0.0107},{"p":"MSPI","s":"b","x":2700,"y":0.0151},{"p":"MSPI","s":"b","x":2800,"y":0.0086},{"p":"MSPI","s":"b","x":2900,"y":0.0133},{"p":"MSPI","s":"b","x":3000,"y":0.0075},{"p":"MSPI","s":"b","x":3100,"y":0.0118},{"p":"MSPI","s":"b","x":3200,"y":0.0088},{"p":"MSPI","s":"b","x":3300,"y":0.0136},{"p":"MSPI","s":"b","x":3400,"y":0.0077},{"p":"MSPI","s":"b","x":3500,"y":0.0107},{"p":"MSPI","s":"b","x":3600,"y":0.0066},{"p":"MSPI","s":"b","x":3700,"y":0.0121},{"p":"MSPI","s":"b","x":3800,"y":0.008},{"p":"MSPI","s":"b","x":3900,"y":0.0127},{"p":"MSPI","s":"b","x":4000,"y":0.0069},{"p":"MSPI","s":"b","x":4100,"y":0.0107},{"p":"MSPI","s":"b","x":4200,"y":0.0053},{"p":"MSPI","s":"b","x":4300,"y":0.0116},{"p":"MSPI","s":"b","x":4400,"y":0.0077},{"p":"MSPI","s":"b","x":4500,"y":0.0121},{"p":"MSPI","s":"b","x":4600,"y":0.0057},{"p":"MSPI","s":"b","x":4700,"y":0.0105},{"p":"MSPI","s":"b","x":4800,"y":0.0048},{"p":"MSPI","s":"b","x":4900,"y":0.0093},{"p":"MSPI","s":"b","x":5000,"y":0.0082},
{"p":"MSPI","s":"g","x":0,"y":0.1},{"p":"MSPI","s":"g","x":20,"y":0.095},{"p":"MSPI","s":"g","x":50,"y":0.07},{"p":"MSPI","s":"g","x":100,"y":0.05},{"p":"MSPI","s":"g","x":150,"y":0.042},{"p":"MSPI","s":"g","x":200,"y":0.038},{"p":"MSPI","s":"g","x":300,"y":0.031},{"p":"MSPI","s":"g","x":400,"y":0.027},{"p":"MSPI","s":"g","x":500,"y":0.024},{"p":"MSPI","s":"g","x":600,"y":0.021},{"p":"MSPI","s":"g","x":700,"y":0.019},{"p":"MSPI","s":"g","x":800,"y":0.018},{"p":"MSPI","s":"g","x":1000,"y":0.017},{"p":"MSPI","s":"g","x":1200,"y":0.0155},{"p":"MSPI","s":"g","x":1500,"y":0.013},{"p":"MSPI","s":"g","x":1800,"y":0.0115},{"p":"MSPI","s":"g","x":2000,"y":0.0105},{"p":"MSPI","s":"g","x":2300,"y":0.0095},{"p":"MSPI","s":"g","x":2600,"y":0.009},{"p":"MSPI","s":"g","x":3000,"y":0.0085},{"p":"MSPI","s":"g","x":3500,"y":0.0078},{"p":"MSPI","s":"g","x":4000,"y":0.0072},{"p":"MSPI","s":"g","x":4500,"y":0.0066},{"p":"MSPI","s":"g","x":5000,"y":0.006}
]
},
"concat": [
{"title":"SGD","width":254,"height":149,"layer":[
{"data":{"name":"bands"},"transform":[{"filter":"datum.p==='SGD'"}],"mark":{"type":"area","clip":true},"encoding":{"x":{"field":"x","type":"quantitative","scale":{"domain":[0,5000],"nice":false,"zero":false},"axis":{"values":[1000,2000,3000,4000,5000],"tickCount":5,"format":"d","title":null,"labelPadding":6}},"y":{"field":"l","type":"quantitative","scale":{"domain":[0,0.1],"nice":false},"axis":{"values":[0,0.02,0.04,0.06,0.08,0.1],"tickCount":6,"format":".2f","title":null,"labelPadding":9}},"y2":{"field":"h"},"fill":{"field":"s","type":"nominal","scale":{"domain":["r","b","g","m","rn","bn","gn"],"range":["rgba(215,0,0,0.13)","rgba(30,30,140,0.12)","rgba(0,110,0,0.11)","rgba(105,55,75,0.26)","rgba(204,0,0,0.85)","rgba(0,0,128,0.85)","rgba(19,138,19,0.85)"]},"legend":null}}},
{"data":{"name":"lines"},"transform":[{"filter":"datum.p==='SGD'"}],"mark":{"type":"line","clip":true,"strokeWidth":2.3},"encoding":{"x":{"field":"x","type":"quantitative","scale":{"domain":[0,5000],"nice":false,"zero":false}},"y":{"field":"y","type":"quantitative","scale":{"domain":[0,0.1],"nice":false}},"stroke":{"field":"s","type":"nominal","scale":{"domain":["r","b","g"],"range":["#cc0000","#000080","#138a13"]},"legend":null}}}]},
{"title":"ADAGRAD","width":254,"height":149,"layer":[
{"data":{"name":"bands"},"transform":[{"filter":"datum.p==='ADAGRAD'"}],"mark":{"type":"area","clip":true},"encoding":{"x":{"field":"x","type":"quantitative","scale":{"domain":[0,5000],"nice":false,"zero":false},"axis":{"values":[1000,2000,3000,4000,5000],"tickCount":5,"format":"d","title":null,"labelPadding":6}},"y":{"field":"l","type":"quantitative","scale":{"domain":[0,0.1],"nice":false},"axis":{"values":[0,0.02,0.04,0.06,0.08,0.1],"tickCount":6,"format":".2f","title":null,"labelPadding":9}},"y2":{"field":"h"},"fill":{"field":"s","type":"nominal","scale":{"domain":["r","b","g","m","rn","bn","gn"],"range":["rgba(215,0,0,0.13)","rgba(30,30,140,0.12)","rgba(0,110,0,0.11)","rgba(105,55,75,0.26)","rgba(204,0,0,0.85)","rgba(0,0,128,0.85)","rgba(19,138,19,0.85)"]},"legend":null}}},
{"data":{"name":"lines"},"transform":[{"filter":"datum.p==='ADAGRAD'"}],"mark":{"type":"line","clip":true,"strokeWidth":2.3},"encoding":{"x":{"field":"x","type":"quantitative","scale":{"domain":[0,5000],"nice":false,"zero":false}},"y":{"field":"y","type":"quantitative","scale":{"domain":[0,0.1],"nice":false}},"stroke":{"field":"s","type":"nominal","scale":{"domain":["r","b","g"],"range":["#cc0000","#000080","#138a13"]},"legend":null}}}]},
{"title":"ADADELTA","width":254,"height":149,"layer":[
{"data":{"name":"bands"},"transform":[{"filter":"datum.p==='ADADELTA'"}],"mark":{"type":"area","clip":true},"encoding":{"x":{"field":"x","type":"quantitative","scale":{"domain":[0,5000],"nice":false,"zero":false},"axis":{"values":[1000,2000,3000,4000,5000],"tickCount":5,"format":"d","title":null,"labelPadding":6}},"y":{"field":"l","type":"quantitative","scale":{"domain":[0,0.1],"nice":false},"axis":{"values":[0,0.02,0.04,0.06,0.08,0.1],"tickCount":6,"format":".2f","title":null,"labelPadding":9}},"y2":{"field":"h"},"fill":{"field":"s","type":"nominal","scale":{"domain":["r","b","g","m","rn","bn","gn"],"range":["rgba(215,0,0,0.13)","rgba(30,30,140,0.12)","rgba(0,110,0,0.11)","rgba(105,55,75,0.26)","rgba(204,0,0,0.85)","rgba(0,0,128,0.85)","rgba(19,138,19,0.85)"]},"legend":null}}},
{"data":{"name":"lines"},"transform":[{"filter":"datum.p==='ADADELTA'"}],"mark":{"type":"line","clip":true,"strokeWidth":5,"strokeJoin":"round"},"encoding":{"x":{"field":"x","type":"quantitative","scale":{"domain":[0,5000],"nice":false,"zero":false}},"y":{"field":"y","type":"quantitative","scale":{"domain":[0,0.1],"nice":false}},"stroke":{"field":"s","type":"nominal","scale":{"domain":["r","b","g"],"range":["#cc0000","#000080","#138a13"]},"legend":null}}}]},
{"title":"RMSPROP","width":254,"height":149,"layer":[
{"data":{"name":"bands"},"transform":[{"filter":"datum.p==='RMSPROP'"}],"mark":{"type":"area","clip":true},"encoding":{"x":{"field":"x","type":"quantitative","scale":{"domain":[0,5000],"nice":false,"zero":false},"axis":{"values":[1000,2000,3000,4000,5000],"tickCount":5,"format":"d","title":null,"labelPadding":6}},"y":{"field":"l","type":"quantitative","scale":{"domain":[0,0.1],"nice":false},"axis":{"values":[0,0.02,0.04,0.06,0.08,0.1],"tickCount":6,"format":".2f","title":null,"labelPadding":9}},"y2":{"field":"h"},"fill":{"field":"s","type":"nominal","scale":{"domain":["r","b","g","m","rn","bn","gn"],"range":["rgba(215,0,0,0.13)","rgba(30,30,140,0.12)","rgba(0,110,0,0.11)","rgba(105,55,75,0.26)","rgba(204,0,0,0.85)","rgba(0,0,128,0.85)","rgba(19,138,19,0.85)"]},"legend":null}}},
{"data":{"name":"lines"},"transform":[{"filter":"datum.p==='RMSPROP'"}],"mark":{"type":"line","clip":true,"strokeWidth":2},"encoding":{"x":{"field":"x","type":"quantitative","scale":{"domain":[0,5000],"nice":false,"zero":false}},"y":{"field":"y","type":"quantitative","scale":{"domain":[0,0.1],"nice":false}},"stroke":{"field":"s","type":"nominal","scale":{"domain":["r","b","g"],"range":["#cc0000","#000080","#138a13"]},"legend":null}}}]},
{"title":"ADAM","width":254,"height":149,"layer":[
{"data":{"name":"bands"},"transform":[{"filter":"datum.p==='ADAM'"}],"mark":{"type":"area","clip":true},"encoding":{"x":{"field":"x","type":"quantitative","scale":{"domain":[0,5000],"nice":false,"zero":false},"axis":{"values":[1000,2000,3000,4000,5000],"tickCount":5,"format":"d","title":null,"labelPadding":6}},"y":{"field":"l","type":"quantitative","scale":{"domain":[0,0.1],"nice":false},"axis":{"values":[0,0.02,0.04,0.06,0.08,0.1],"tickCount":6,"format":".2f","title":null,"labelPadding":9}},"y2":{"field":"h"},"fill":{"field":"s","type":"nominal","scale":{"domain":["r","b","g","m","rn","bn","gn"],"range":["rgba(215,0,0,0.13)","rgba(30,30,140,0.12)","rgba(0,110,0,0.11)","rgba(105,55,75,0.26)","rgba(204,0,0,0.85)","rgba(0,0,128,0.85)","rgba(19,138,19,0.85)"]},"legend":null}}},
{"data":{"name":"lines"},"transform":[{"filter":"datum.p==='ADAM'"}],"mark":{"type":"line","clip":true,"strokeWidth":2},"encoding":{"x":{"field":"x","type":"quantitative","scale":{"domain":[0,5000],"nice":false,"zero":false}},"y":{"field":"y","type":"quantitative","scale":{"domain":[0,0.1],"nice":false}},"stroke":{"field":"s","type":"nominal","scale":{"domain":["r","b","g"],"range":["#cc0000","#000080","#138a13"]},"legend":null}}}]},
{"title":"ADAMAX","width":254,"height":149,"layer":[
{"data":{"name":"bands"},"transform":[{"filter":"datum.p==='ADAMAX'"}],"mark":{"type":"area","clip":true},"encoding":{"x":{"field":"x","type":"quantitative","scale":{"domain":[0,5000],"nice":false,"zero":false},"axis":{"values":[1000,2000,3000,4000,5000],"tickCount":5,"format":"d","title":null,"labelPadding":6}},"y":{"field":"l","type":"quantitative","scale":{"domain":[0,0.1],"nice":false},"axis":{"values":[0,0.02,0.04,0.06,0.08,0.1],"tickCount":6,"format":".2f","title":null,"labelPadding":9}},"y2":{"field":"h"},"fill":{"field":"s","type":"nominal","scale":{"domain":["r","b","g","m","rn","bn","gn"],"range":["rgba(215,0,0,0.13)","rgba(30,30,140,0.12)","rgba(0,110,0,0.11)","rgba(105,55,75,0.26)","rgba(204,0,0,0.85)","rgba(0,0,128,0.85)","rgba(19,138,19,0.85)"]},"legend":null}}},
{"data":{"name":"lines"},"transform":[{"filter":"datum.p==='ADAMAX'"}],"mark":{"type":"line","clip":true,"strokeWidth":2},"encoding":{"x":{"field":"x","type":"quantitative","scale":{"domain":[0,5000],"nice":false,"zero":false}},"y":{"field":"y","type":"quantitative","scale":{"domain":[0,0.1],"nice":false}},"stroke":{"field":"s","type":"nominal","scale":{"domain":["r","b","g"],"range":["#cc0000","#000080","#138a13"]},"legend":null}}}]},
{"title":"OMAS","width":254,"height":149,"layer":[
{"data":{"name":"bands"},"transform":[{"filter":"datum.p==='OMAS'"}],"mark":{"type":"area","clip":true},"encoding":{"x":{"field":"x","type":"quantitative","scale":{"domain":[0,5000],"nice":false,"zero":false},"axis":{"values":[1000,2000,3000,4000,5000],"tickCount":5,"format":"d","title":null,"labelPadding":6}},"y":{"field":"l","type":"quantitative","scale":{"domain":[0,0.1],"nice":false},"axis":{"values":[0,0.02,0.04,0.06,0.08,0.1],"tickCount":6,"format":".2f","title":null,"labelPadding":9}},"y2":{"field":"h"},"fill":{"field":"s","type":"nominal","scale":{"domain":["r","b","g","m","rn","bn","gn"],"range":["rgba(215,0,0,0.13)","rgba(30,30,140,0.12)","rgba(0,110,0,0.11)","rgba(105,55,75,0.26)","rgba(204,0,0,0.85)","rgba(0,0,128,0.85)","rgba(19,138,19,0.85)"]},"legend":null}}},
{"data":{"name":"lines"},"transform":[{"filter":"datum.p==='OMAS'"}],"mark":{"type":"line","clip":true,"strokeWidth":2.3},"encoding":{"x":{"field":"x","type":"quantitative","scale":{"domain":[0,5000],"nice":false,"zero":false}},"y":{"field":"y","type":"quantitative","scale":{"domain":[0,0.1],"nice":false}},"stroke":{"field":"s","type":"nominal","scale":{"domain":["r","b","g"],"range":["#cc0000","#000080","#138a13"]},"legend":null}}}]},
{"title":"OMAP","width":254,"height":149,"layer":[
{"data":{"name":"bands"},"transform":[{"filter":"datum.p==='OMAP'"}],"mark":{"type":"area","clip":true},"encoding":{"x":{"field":"x","type":"quantitative","scale":{"domain":[0,5000],"nice":false,"zero":false},"axis":{"values":[1000,2000,3000,4000,5000],"tickCount":5,"format":"d","title":null,"labelPadding":6}},"y":{"field":"l","type":"quantitative","scale":{"domain":[0,0.1],"nice":false},"axis":{"values":[0,0.02,0.04,0.06,0.08,0.1],"tickCount":6,"format":".2f","title":null,"labelPadding":9}},"y2":{"field":"h"},"fill":{"field":"s","type":"nominal","scale":{"domain":["r","b","g","m","rn","bn","gn"],"range":["rgba(215,0,0,0.13)","rgba(30,30,140,0.12)","rgba(0,110,0,0.11)","rgba(105,55,75,0.26)","rgba(204,0,0,0.85)","rgba(0,0,128,0.85)","rgba(19,138,19,0.85)"]},"legend":null}}},
{"data":{"name":"lines"},"transform":[{"filter":"datum.p==='OMAP'"}],"mark":{"type":"line","clip":true,"strokeWidth":2.3},"encoding":{"x":{"field":"x","type":"quantitative","scale":{"domain":[0,5000],"nice":false,"zero":false}},"y":{"field":"y","type":"quantitative","scale":{"domain":[0,0.1],"nice":false}},"stroke":{"field":"s","type":"nominal","scale":{"domain":["r","b","g"],"range":["#cc0000","#000080","#138a13"]},"legend":null}}}]},
{"title":"MSPI","width":254,"height":149,"layer":[
{"data":{"name":"bands"},"transform":[{"filter":"datum.p==='MSPI'"}],"mark":{"type":"area","clip":true},"encoding":{"x":{"field":"x","type":"quantitative","scale":{"domain":[0,5000],"nice":false,"zero":false},"axis":{"values":[1000,2000,3000,4000,5000],"tickCount":5,"format":"d","title":null,"labelPadding":6}},"y":{"field":"l","type":"quantitative","scale":{"domain":[0,0.1],"nice":false},"axis":{"values":[0,0.02,0.04,0.06,0.08,0.1],"tickCount":6,"format":".2f","title":null,"labelPadding":9}},"y2":{"field":"h"},"fill":{"field":"s","type":"nominal","scale":{"domain":["r","b","g","m","rn","bn","gn"],"range":["rgba(215,0,0,0.13)","rgba(30,30,140,0.12)","rgba(0,110,0,0.11)","rgba(105,55,75,0.26)","rgba(204,0,0,0.85)","rgba(0,0,128,0.85)","rgba(19,138,19,0.85)"]},"legend":null}}},
{"data":{"name":"lines"},"transform":[{"filter":"datum.p==='MSPI'"}],"mark":{"type":"line","clip":true,"strokeWidth":2.3},"encoding":{"x":{"field":"x","type":"quantitative","scale":{"domain":[0,5000],"nice":false,"zero":false}},"y":{"field":"y","type":"quantitative","scale":{"domain":[0,0.1],"nice":false}},"stroke":{"field":"s","type":"nominal","scale":{"domain":["r","b","g"],"range":["#cc0000","#000080","#138a13"]},"legend":null}}}]}
]
}
